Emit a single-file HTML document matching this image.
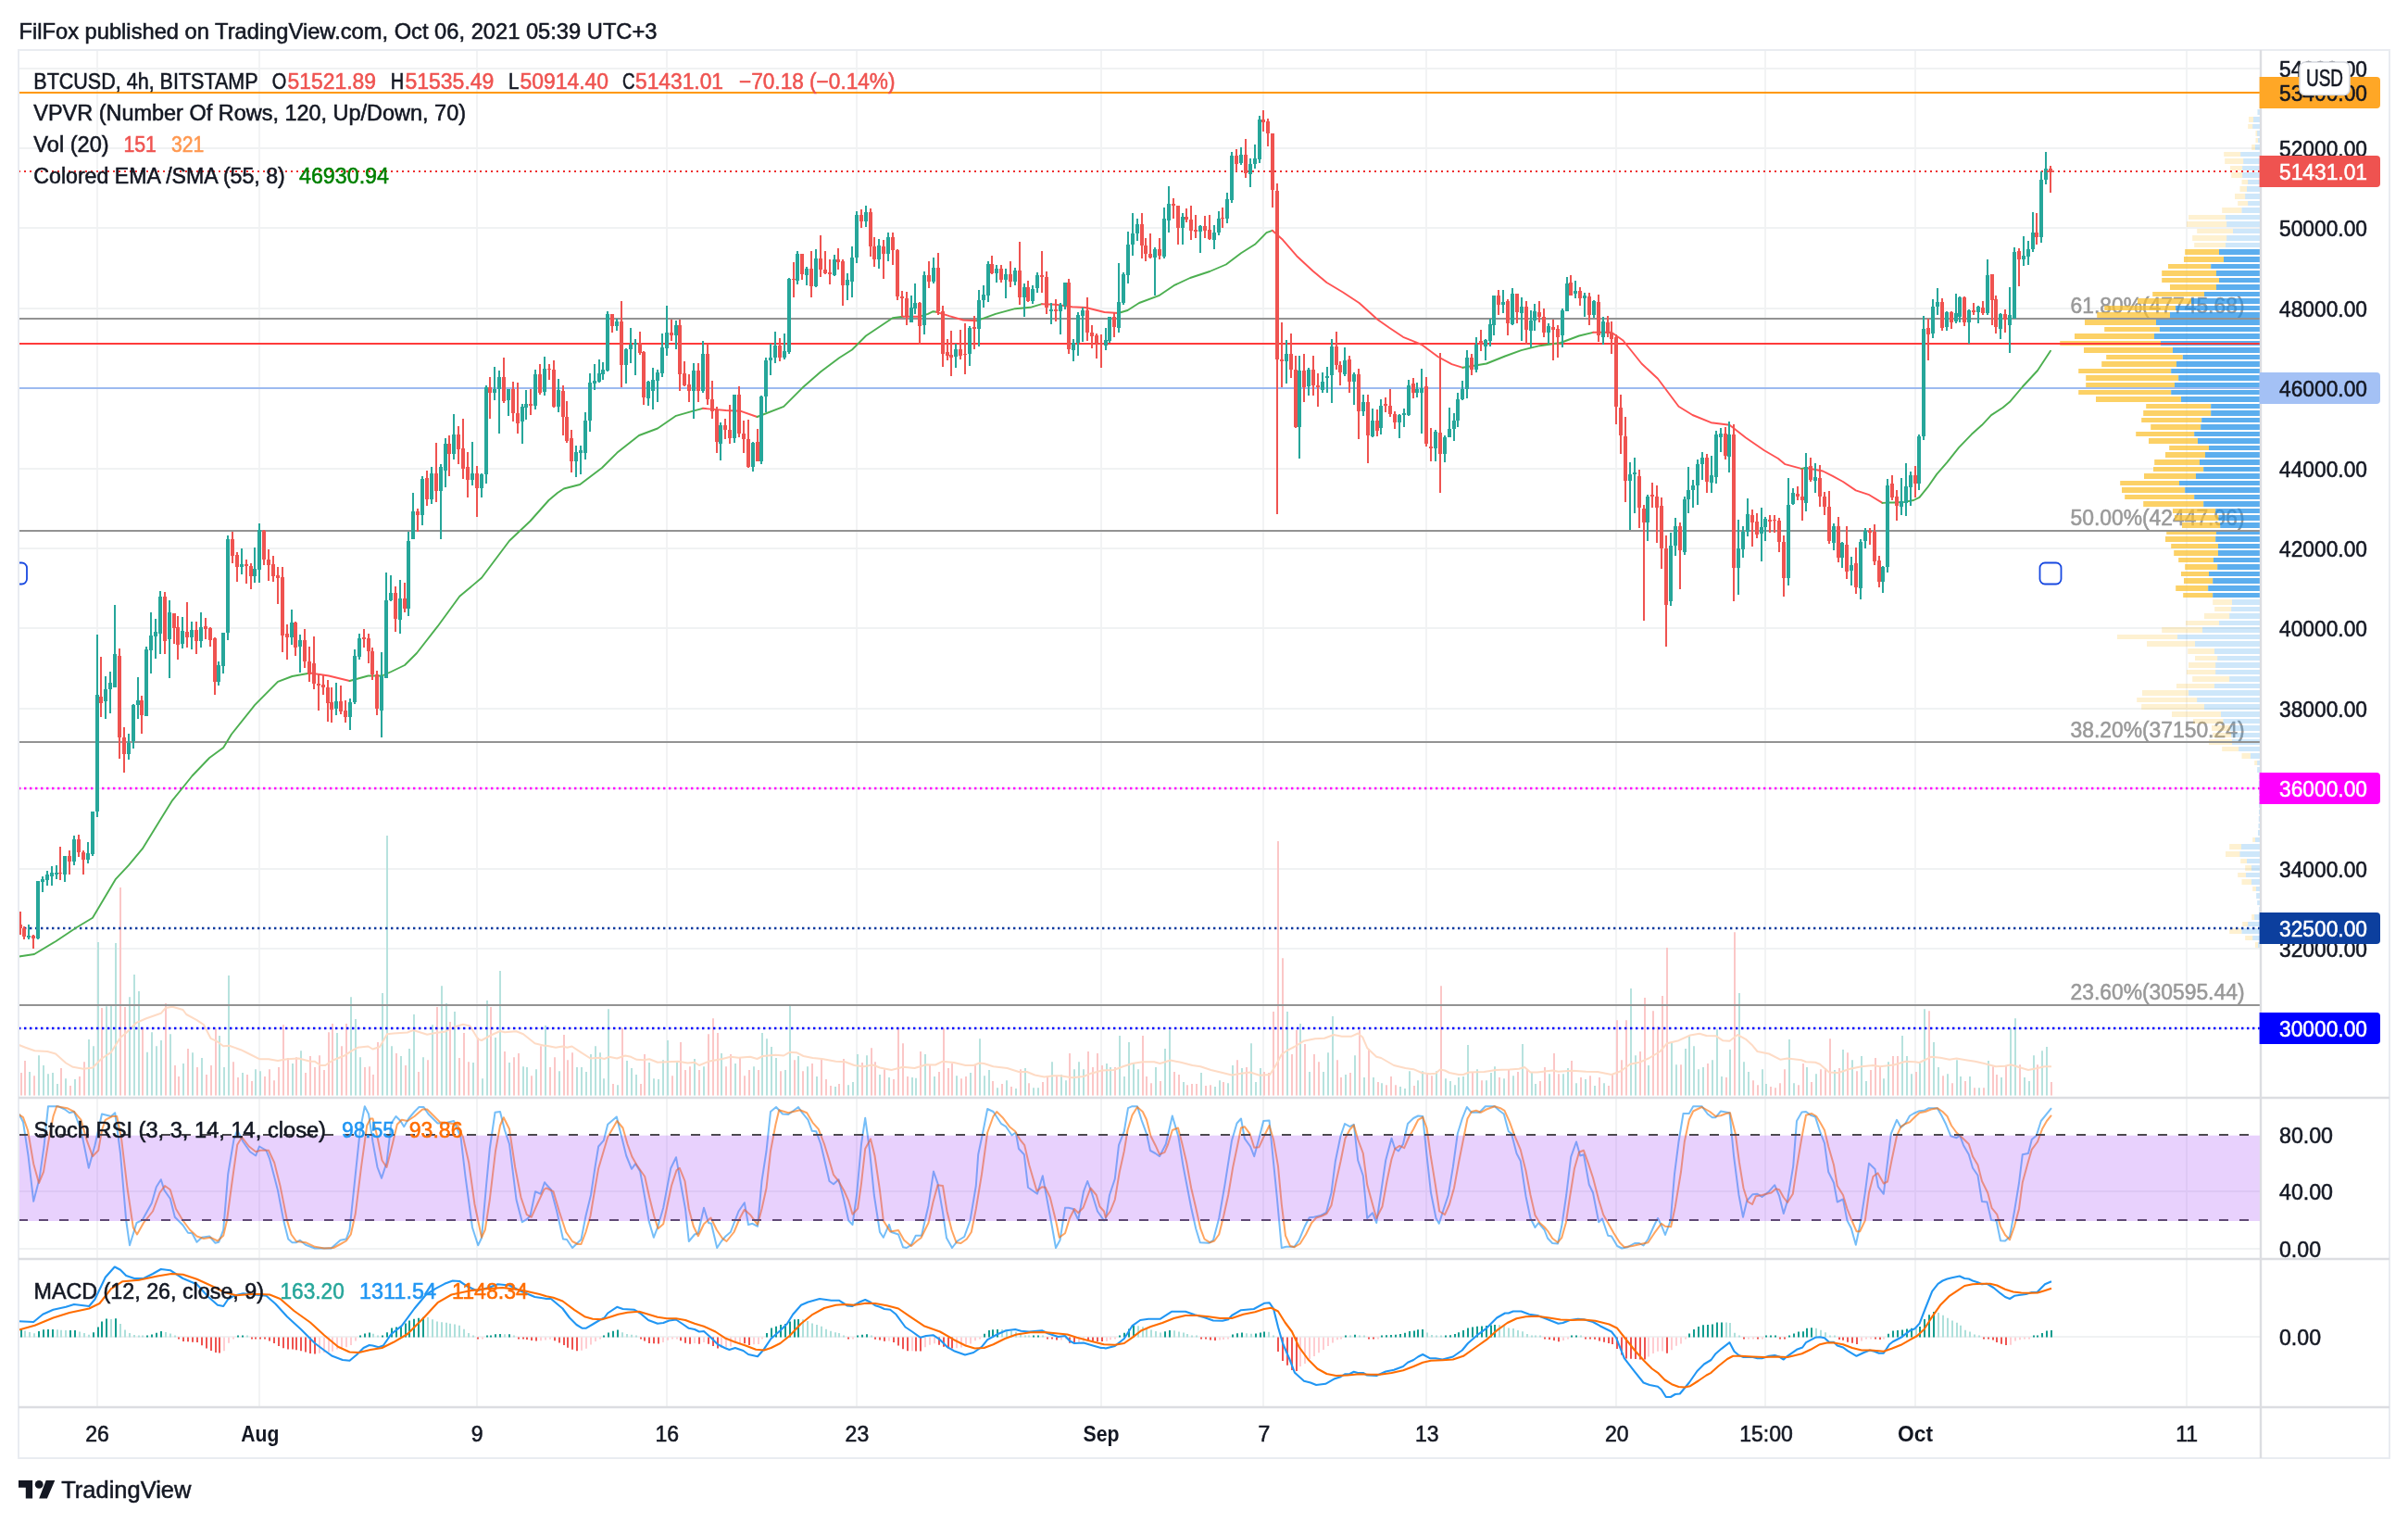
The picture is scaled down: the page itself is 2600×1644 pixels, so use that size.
<!DOCTYPE html>
<html><head><meta charset="utf-8"><title>BTCUSD chart</title>
<style>html,body{margin:0;padding:0;background:#fff}body{width:2600px;height:1644px;overflow:hidden}</style></head>
<body>
<svg width="2600" height="1644" viewBox="0 0 2600 1644" font-family='"Liberation Sans", "DejaVu Sans", sans-serif' style="display:block"><style>text{paint-order:stroke;stroke-width:.55px}</style>
<rect width="2600" height="1644" fill="#fff"/>
<defs>
<clipPath id="cm"><rect x="20" y="54" width="2421" height="1131"/></clipPath>
<clipPath id="cs"><rect x="20" y="1185" width="2421" height="174"/></clipPath>
<clipPath id="cd"><rect x="20" y="1359" width="2421" height="160"/></clipPath>
<filter id="nf" x="-5%" y="-30%" width="110%" height="160%"><feOffset dx="0" dy="0"/></filter>
</defs>
<path d="M105 54V1519 M280 54V1519 M515 54V1519 M720 54V1519 M925 54V1519 M1189 54V1519 M1364 54V1519 M1540 54V1519 M1745 54V1519 M1906 54V1519 M2068 54V1519 M2361 54V1519" stroke="#f2f3f4" stroke-width="2" fill="none"/>
<path d="M20 74H2441 M20 160H2441 M20 246H2441 M20 333H2441 M20 419H2441 M20 506H2441 M20 592H2441 M20 678H2441 M20 765H2441 M20 851H2441 M20 938H2441 M20 1024H2441 M20 1110H2441 M20 1286H2441 M20 1348H2441 M20 1443H2441" stroke="#f0f2f3" stroke-width="2" fill="none"/>
<g clip-path="url(#cm)">
<g filter="url(#nf)"><text x="2235.5" y="338.0" font-size="23" fill="#999" stroke="#999" textLength="188" lengthAdjust="spacingAndGlyphs">61.80%(47745.68)</text></g>
<g filter="url(#nf)"><text x="2235.5" y="566.8" font-size="23" fill="#999" stroke="#999" textLength="188" lengthAdjust="spacingAndGlyphs">50.00%(42447.96)</text></g>
<g filter="url(#nf)"><text x="2235.5" y="795.6" font-size="23" fill="#999" stroke="#999" textLength="188" lengthAdjust="spacingAndGlyphs">38.20%(37150.24)</text></g>
<g filter="url(#nf)"><text x="2235.5" y="1078.8" font-size="23" fill="#999" stroke="#999" textLength="188" lengthAdjust="spacingAndGlyphs">23.60%(30595.44)</text></g>
<path d="M32 1182.5V1157.0 M42 1182.5V1139.2 M47 1182.5V1150.0 M52 1182.5V1159.2 M57 1182.5V1158.0 M62 1182.5V1170.0 M71 1182.5V1164.2 M81 1182.5V1165.0 M96 1182.5V1122.0 M101 1182.5V1129.2 M106 1182.5V1017.0 M115 1182.5V1086.2 M120 1182.5V1085.8 M125 1182.5V1018.0 M140 1182.5V1076.2 M145 1182.5V1052.0 M150 1182.5V1070.0 M159 1182.5V1135.8 M164 1182.5V1114.2 M169 1182.5V1129.2 M174 1182.5V1123.0 M184 1182.5V1116.2 M198 1182.5V1148.0 M208 1182.5V1136.2 M218 1182.5V1142.0 M237 1182.5V1118.0 M242 1182.5V1152.0 M247 1182.5V1053.0 M262 1182.5V1158.0 M276 1182.5V1154.2 M281 1182.5V1156.2 M316 1182.5V1148.0 M325 1182.5V1134.2 M364 1182.5V1115.0 M379 1182.5V1076.2 M384 1182.5V1100.0 M389 1182.5V1141.2 M413 1182.5V1072.0 M418 1182.5V902.0 M423 1182.5V1129.2 M433 1182.5V1140.0 M442 1182.5V1132.0 M447 1182.5V1095.0 M457 1182.5V1141.2 M467 1182.5V1106.2 M477 1182.5V1064.2 M482 1182.5V1083.0 M491 1182.5V1092.0 M511 1182.5V1147.0 M521 1182.5V1164.2 M526 1182.5V1080.0 M535 1182.5V1120.0 M540 1182.5V1048.0 M550 1182.5V1147.0 M565 1182.5V1151.2 M569 1182.5V1152.0 M579 1182.5V1154.2 M589 1182.5V1107.0 M604 1182.5V1156.2 M623 1182.5V1152.0 M628 1182.5V1152.0 M633 1182.5V1157.0 M638 1182.5V1138.0 M643 1182.5V1129.2 M648 1182.5V1136.2 M652 1182.5V1164.2 M657 1182.5V1089.2 M667 1182.5V1171.2 M677 1182.5V1145.0 M682 1182.5V1153.0 M687 1182.5V1160.0 M701 1182.5V1147.0 M706 1182.5V1164.2 M711 1182.5V1165.0 M716 1182.5V1144.2 M721 1182.5V1123.0 M731 1182.5V1146.2 M750 1182.5V1143.0 M760 1182.5V1151.2 M779 1182.5V1137.0 M794 1182.5V1148.0 M814 1182.5V1151.2 M823 1182.5V1115.0 M828 1182.5V1121.2 M833 1182.5V1130.0 M838 1182.5V1142.0 M848 1182.5V1155.0 M853 1182.5V1085.8 M862 1182.5V1140.0 M872 1182.5V1151.2 M882 1182.5V1162.0 M902 1182.5V1173.0 M916 1182.5V1171.2 M921 1182.5V1168.0 M926 1182.5V1138.0 M936 1182.5V1139.2 M950 1182.5V1160.0 M960 1182.5V1163.0 M985 1182.5V1163.0 M989 1182.5V1163.8 M999 1182.5V1138.0 M1009 1182.5V1162.0 M1033 1182.5V1161.2 M1048 1182.5V1158.0 M1058 1182.5V1121.2 M1063 1182.5V1161.2 M1068 1182.5V1155.0 M1077 1182.5V1174.2 M1087 1182.5V1166.2 M1097 1182.5V1175.0 M1107 1182.5V1153.0 M1116 1182.5V1174.2 M1121 1182.5V1174.2 M1136 1182.5V1146.2 M1146 1182.5V1160.0 M1151 1182.5V1166.2 M1160 1182.5V1154.2 M1165 1182.5V1146.2 M1170 1182.5V1154.2 M1195 1182.5V1148.0 M1199 1182.5V1152.0 M1209 1182.5V1118.0 M1214 1182.5V1162.0 M1219 1182.5V1125.0 M1224 1182.5V1148.0 M1229 1182.5V1154.2 M1248 1182.5V1152.0 M1258 1182.5V1132.0 M1263 1182.5V1112.0 M1278 1182.5V1168.0 M1297 1182.5V1158.0 M1312 1182.5V1173.0 M1317 1182.5V1166.2 M1326 1182.5V1169.2 M1331 1182.5V1150.0 M1341 1182.5V1153.0 M1351 1182.5V1126.2 M1356 1182.5V1168.0 M1361 1182.5V1153.0 M1390 1182.5V1092.0 M1404 1182.5V1105.0 M1414 1182.5V1157.0 M1429 1182.5V1157.0 M1434 1182.5V1136.2 M1439 1182.5V1097.0 M1453 1182.5V1160.0 M1463 1182.5V1139.2 M1473 1182.5V1163.0 M1483 1182.5V1163.0 M1492 1182.5V1169.2 M1512 1182.5V1173.0 M1517 1182.5V1175.0 M1522 1182.5V1156.2 M1531 1182.5V1166.2 M1536 1182.5V1156.2 M1551 1182.5V1156.2 M1561 1182.5V1164.2 M1566 1182.5V1167.0 M1571 1182.5V1171.2 M1575 1182.5V1163.0 M1580 1182.5V1162.0 M1585 1182.5V1128.0 M1595 1182.5V1154.2 M1605 1182.5V1166.2 M1610 1182.5V1158.0 M1614 1182.5V1151.2 M1624 1182.5V1164.2 M1634 1182.5V1161.2 M1644 1182.5V1127.0 M1654 1182.5V1158.0 M1658 1182.5V1170.0 M1673 1182.5V1159.2 M1688 1182.5V1159.2 M1693 1182.5V1153.0 M1702 1182.5V1169.2 M1712 1182.5V1165.0 M1722 1182.5V1172.0 M1732 1182.5V1169.2 M1761 1182.5V1067.0 M1766 1182.5V1139.2 M1780 1182.5V1150.0 M1805 1182.5V1125.0 M1810 1182.5V1149.2 M1820 1182.5V1132.0 M1824 1182.5V1118.0 M1829 1182.5V1129.2 M1834 1182.5V1154.2 M1839 1182.5V1152.0 M1849 1182.5V1144.2 M1854 1182.5V1111.2 M1859 1182.5V1162.0 M1868 1182.5V1133.0 M1878 1182.5V1072.0 M1883 1182.5V1146.2 M1888 1182.5V1157.0 M1903 1182.5V1154.2 M1907 1182.5V1170.0 M1932 1182.5V1122.0 M1937 1182.5V1169.2 M1951 1182.5V1152.0 M1961 1182.5V1159.2 M1981 1182.5V1155.0 M1990 1182.5V1133.0 M2000 1182.5V1144.2 M2010 1182.5V1140.0 M2015 1182.5V1167.0 M2034 1182.5V1164.2 M2039 1182.5V1146.2 M2054 1182.5V1118.0 M2059 1182.5V1140.0 M2064 1182.5V1159.2 M2073 1182.5V1148.0 M2078 1182.5V1089.2 M2088 1182.5V1125.0 M2093 1182.5V1152.0 M2103 1182.5V1159.2 M2113 1182.5V1144.2 M2117 1182.5V1162.0 M2127 1182.5V1162.0 M2137 1182.5V1174.2 M2147 1182.5V1145.0 M2161 1182.5V1163.0 M2171 1182.5V1110.0 M2176 1182.5V1099.2 M2186 1182.5V1163.0 M2191 1182.5V1167.0 M2196 1182.5V1139.2 M2205 1182.5V1134.2 M2210 1182.5V1130.0" stroke="#b7e2de" stroke-width="2" fill="none"/>
<path d="M23 1182.5V1158.0 M27 1182.5V1145.0 M37 1182.5V1161.2 M66 1182.5V1153.0 M76 1182.5V1172.0 M86 1182.5V1162.0 M91 1182.5V1146.2 M110 1182.5V1088.0 M130 1182.5V958.0 M135 1182.5V1087.0 M154 1182.5V1108.8 M179 1182.5V1083.0 M189 1182.5V1150.0 M193 1182.5V1162.0 M203 1182.5V1132.0 M213 1182.5V1152.0 M223 1182.5V1160.0 M228 1182.5V1150.0 M233 1182.5V1110.8 M252 1182.5V1146.2 M257 1182.5V1163.0 M267 1182.5V1160.0 M272 1182.5V1167.0 M286 1182.5V1162.0 M291 1182.5V1154.2 M296 1182.5V1166.2 M301 1182.5V1152.0 M306 1182.5V1106.2 M311 1182.5V1142.0 M320 1182.5V1141.2 M330 1182.5V1158.0 M335 1182.5V1140.0 M340 1182.5V1152.0 M345 1182.5V1139.2 M350 1182.5V1155.0 M355 1182.5V1114.2 M359 1182.5V1105.0 M369 1182.5V1129.2 M374 1182.5V1105.0 M394 1182.5V1152.0 M399 1182.5V1151.2 M403 1182.5V1160.0 M408 1182.5V1125.0 M428 1182.5V1137.0 M438 1182.5V1150.0 M452 1182.5V1157.0 M462 1182.5V1144.2 M472 1182.5V1087.0 M486 1182.5V1103.0 M496 1182.5V1142.0 M501 1182.5V1115.0 M506 1182.5V1146.2 M516 1182.5V1120.0 M530 1182.5V1087.0 M545 1182.5V1135.0 M555 1182.5V1141.2 M560 1182.5V1137.0 M574 1182.5V1161.2 M584 1182.5V1129.2 M594 1182.5V1152.0 M599 1182.5V1141.2 M609 1182.5V1117.0 M613 1182.5V1144.2 M618 1182.5V1136.2 M662 1182.5V1170.0 M672 1182.5V1110.0 M692 1182.5V1170.0 M696 1182.5V1138.0 M726 1182.5V1161.2 M735 1182.5V1125.0 M740 1182.5V1155.0 M745 1182.5V1151.2 M755 1182.5V1155.0 M765 1182.5V1116.2 M770 1182.5V1099.2 M775 1182.5V1115.0 M784 1182.5V1151.2 M789 1182.5V1138.0 M799 1182.5V1142.0 M804 1182.5V1161.2 M809 1182.5V1155.0 M819 1182.5V1155.0 M843 1182.5V1156.2 M858 1182.5V1144.2 M867 1182.5V1156.2 M877 1182.5V1148.0 M887 1182.5V1142.0 M892 1182.5V1165.0 M897 1182.5V1172.0 M906 1182.5V1170.0 M911 1182.5V1143.0 M931 1182.5V1147.0 M941 1182.5V1131.2 M945 1182.5V1146.2 M955 1182.5V1154.2 M965 1182.5V1165.0 M970 1182.5V1110.0 M975 1182.5V1126.2 M980 1182.5V1162.0 M994 1182.5V1135.0 M1004 1182.5V1149.2 M1014 1182.5V1157.0 M1019 1182.5V1110.0 M1024 1182.5V1153.0 M1028 1182.5V1148.0 M1038 1182.5V1164.2 M1043 1182.5V1162.0 M1053 1182.5V1150.0 M1072 1182.5V1167.0 M1082 1182.5V1170.0 M1092 1182.5V1173.0 M1102 1182.5V1154.2 M1111 1182.5V1169.2 M1126 1182.5V1168.0 M1131 1182.5V1161.2 M1141 1182.5V1160.8 M1155 1182.5V1137.0 M1175 1182.5V1135.0 M1180 1182.5V1152.0 M1185 1182.5V1137.0 M1190 1182.5V1150.0 M1204 1182.5V1152.0 M1234 1182.5V1118.0 M1238 1182.5V1162.0 M1243 1182.5V1169.2 M1253 1182.5V1167.0 M1268 1182.5V1157.0 M1273 1182.5V1160.0 M1282 1182.5V1171.2 M1287 1182.5V1170.0 M1292 1182.5V1170.0 M1302 1182.5V1172.0 M1307 1182.5V1171.2 M1321 1182.5V1168.0 M1336 1182.5V1144.2 M1346 1182.5V1152.0 M1365 1182.5V1157.0 M1370 1182.5V1158.0 M1375 1182.5V1092.0 M1380 1182.5V908.0 M1385 1182.5V1034.2 M1395 1182.5V1138.0 M1400 1182.5V1112.0 M1409 1182.5V1127.0 M1419 1182.5V1138.0 M1424 1182.5V1146.2 M1444 1182.5V1144.2 M1448 1182.5V1163.0 M1458 1182.5V1158.0 M1468 1182.5V1112.0 M1478 1182.5V1132.0 M1488 1182.5V1168.0 M1497 1182.5V1171.2 M1502 1182.5V1162.0 M1507 1182.5V1171.2 M1527 1182.5V1172.0 M1541 1182.5V1158.0 M1546 1182.5V1161.2 M1556 1182.5V1064.2 M1590 1182.5V1157.0 M1600 1182.5V1166.2 M1619 1182.5V1163.0 M1629 1182.5V1155.0 M1639 1182.5V1157.0 M1649 1182.5V1154.2 M1663 1182.5V1167.0 M1668 1182.5V1152.0 M1678 1182.5V1137.0 M1683 1182.5V1159.2 M1697 1182.5V1145.0 M1707 1182.5V1163.0 M1717 1182.5V1161.2 M1727 1182.5V1163.0 M1737 1182.5V1172.0 M1741 1182.5V1160.0 M1746 1182.5V1101.2 M1751 1182.5V1144.2 M1756 1182.5V1101.2 M1771 1182.5V1135.0 M1776 1182.5V1077.0 M1785 1182.5V1091.2 M1790 1182.5V1108.0 M1795 1182.5V1075.0 M1800 1182.5V1023.0 M1815 1182.5V1149.2 M1844 1182.5V1148.0 M1864 1182.5V1163.0 M1873 1182.5V1006.2 M1893 1182.5V1166.2 M1898 1182.5V1171.2 M1912 1182.5V1173.0 M1917 1182.5V1174.2 M1922 1182.5V1169.2 M1927 1182.5V1154.2 M1942 1182.5V1171.2 M1947 1182.5V1148.0 M1956 1182.5V1168.0 M1966 1182.5V1154.2 M1971 1182.5V1153.0 M1976 1182.5V1121.2 M1986 1182.5V1153.0 M1995 1182.5V1136.2 M2005 1182.5V1156.2 M2020 1182.5V1155.0 M2025 1182.5V1142.0 M2030 1182.5V1151.2 M2044 1182.5V1140.0 M2049 1182.5V1140.0 M2069 1182.5V1157.0 M2083 1182.5V1091.2 M2098 1182.5V1161.2 M2108 1182.5V1169.2 M2122 1182.5V1167.0 M2132 1182.5V1174.2 M2142 1182.5V1174.2 M2152 1182.5V1151.2 M2156 1182.5V1160.0 M2166 1182.5V1150.0 M2181 1182.5V1149.2 M2200 1182.5V1149.2 M2215 1182.5V1168.0" stroke="#fbc7c7" stroke-width="2" fill="none"/>
<polyline points="20.5,1128.0 27.5,1130.8 37.5,1134.2 51.2,1135.0 60.0,1137.5 71.2,1147.5 78.8,1151.8 90.0,1153.8 100.0,1152.5 110.0,1142.5 120.0,1135.8 130.0,1120.0 136.2,1115.0 147.5,1103.8 157.5,1099.5 173.8,1093.8 178.8,1088.0 186.2,1086.8 197.5,1090.0 201.2,1095.0 212.5,1101.2 220.0,1106.2 227.5,1120.8 233.8,1123.8 241.2,1129.2 247.5,1128.8 260.0,1133.2 268.8,1137.5 280.0,1143.2 290.0,1143.2 300.0,1145.0 310.0,1143.2 322.5,1142.5 335.0,1145.8 340.0,1145.8 346.2,1150.0 351.2,1150.0 360.0,1144.2 372.5,1139.2 380.0,1134.2 386.2,1130.8 397.5,1129.5 402.5,1132.5 410.0,1130.0 418.0,1116.2 425.0,1115.5 440.0,1114.5 446.2,1112.0 461.2,1116.8 470.0,1115.0 480.0,1113.8 490.0,1108.8 500.0,1105.8 507.5,1107.5 516.2,1121.8 520.0,1123.0 530.0,1117.5 540.0,1113.0 545.0,1114.2 557.5,1113.2 565.0,1116.2 577.5,1126.2 587.5,1128.8 590.0,1128.8 600.0,1130.8 607.5,1129.5 612.5,1130.8 617.5,1129.5 627.5,1136.2 637.5,1142.5 647.5,1141.8 652.5,1143.0 657.5,1140.8 666.2,1142.5 675.0,1139.5 681.2,1140.8 687.5,1143.8 695.0,1144.2 701.2,1143.2 710.0,1146.8 720.0,1146.2 732.5,1145.8 742.5,1147.5 750.0,1146.8 755.0,1150.0 765.0,1145.8 780.0,1143.0 788.8,1140.8 797.5,1141.8 810.0,1140.8 817.5,1143.0 823.8,1140.0 837.5,1138.8 846.2,1139.5 852.5,1135.8 860.0,1136.2 867.5,1140.0 877.5,1142.0 887.5,1143.0 902.5,1145.8 912.5,1146.2 922.5,1150.0 932.5,1151.2 942.5,1149.5 950.0,1152.5 962.5,1155.0 975.0,1151.8 987.5,1153.0 1000.0,1149.2 1010.0,1149.5 1017.5,1145.8 1030.0,1147.0 1042.5,1150.0 1051.2,1150.0 1057.5,1147.5 1062.5,1148.0 1072.5,1151.2 1087.5,1153.0 1100.0,1157.0 1108.8,1157.0 1117.5,1160.5 1127.5,1162.5 1137.5,1161.2 1145.0,1161.2 1157.5,1163.2 1170.0,1162.0 1177.5,1158.8 1180.0,1158.2 1190.0,1155.5 1202.5,1155.0 1212.5,1151.2 1222.5,1148.0 1233.8,1146.2 1246.2,1146.2 1252.5,1148.0 1263.8,1144.5 1275.0,1146.8 1287.5,1150.0 1296.2,1151.2 1307.5,1155.0 1320.0,1158.0 1330.0,1160.5 1340.0,1158.8 1350.0,1157.5 1360.0,1160.8 1371.2,1160.0 1377.5,1150.0 1383.8,1138.2 1390.0,1133.8 1397.5,1130.0 1407.5,1123.8 1420.0,1121.2 1430.0,1120.8 1440.0,1117.0 1448.8,1118.8 1458.8,1118.8 1466.2,1115.5 1471.2,1119.5 1476.2,1131.2 1486.2,1140.8 1491.2,1142.0 1505.0,1150.0 1517.5,1153.0 1526.2,1154.2 1535.0,1158.0 1543.8,1159.2 1550.0,1158.8 1555.0,1154.5 1560.0,1155.5 1565.0,1158.0 1575.0,1160.0 1580.0,1160.0 1586.2,1157.5 1602.5,1157.0 1615.0,1155.0 1630.0,1154.5 1640.0,1153.8 1646.2,1152.0 1652.5,1157.5 1660.0,1157.5 1676.2,1155.5 1682.5,1156.8 1697.5,1155.8 1712.5,1156.8 1725.0,1157.0 1730.0,1158.0 1740.0,1160.0 1750.0,1156.2 1760.0,1148.8 1770.0,1146.8 1780.0,1142.5 1792.5,1135.0 1800.0,1126.2 1812.5,1123.2 1825.0,1117.5 1835.0,1115.8 1842.5,1118.0 1852.5,1118.2 1860.0,1123.2 1867.5,1123.8 1876.2,1117.0 1885.0,1121.8 1892.5,1128.8 1897.5,1135.0 1910.0,1137.5 1922.5,1143.8 1930.0,1142.5 1945.0,1144.2 1950.0,1146.2 1960.0,1146.8 1965.0,1148.8 1975.0,1157.5 1985.0,1158.0 1997.5,1153.8 2010.0,1151.2 2022.5,1150.0 2030.0,1151.2 2045.0,1149.5 2057.5,1145.8 2067.5,1146.2 2072.5,1147.0 2085.0,1140.8 2095.0,1141.8 2105.0,1143.8 2112.5,1142.5 2122.5,1144.2 2132.5,1145.8 2142.5,1148.0 2155.0,1151.2 2165.0,1150.8 2171.2,1149.2 2180.0,1152.0 2190.0,1155.0 2200.0,1153.0 2207.5,1151.2 2215.0,1151.2" fill="none" stroke="#fedbc5" stroke-width="2" stroke-linejoin="round"/>
<rect x="2437.5" y="118" width="2.5" height="6" fill="#2090e8" fill-opacity="0.22"/>
<rect x="2428.0" y="126" width="5.0" height="6" fill="#fbc02d" fill-opacity="0.22"/>
<rect x="2433.0" y="126" width="7.0" height="6" fill="#2090e8" fill-opacity="0.22"/>
<rect x="2427.2" y="134" width="5.0" height="5" fill="#fbc02d" fill-opacity="0.22"/>
<rect x="2432.2" y="134" width="7.8" height="5" fill="#2090e8" fill-opacity="0.22"/>
<rect x="2435.5" y="141" width="1.8" height="6" fill="#fbc02d" fill-opacity="0.22"/>
<rect x="2437.2" y="141" width="2.8" height="6" fill="#2090e8" fill-opacity="0.22"/>
<rect x="2435.5" y="149" width="2.5" height="5" fill="#fbc02d" fill-opacity="0.22"/>
<rect x="2438.0" y="149" width="2.0" height="5" fill="#2090e8" fill-opacity="0.22"/>
<rect x="2431.2" y="156" width="3.8" height="6" fill="#fbc02d" fill-opacity="0.22"/>
<rect x="2435.0" y="156" width="5.0" height="6" fill="#2090e8" fill-opacity="0.22"/>
<rect x="2401.2" y="164" width="18.0" height="5" fill="#fbc02d" fill-opacity="0.22"/>
<rect x="2419.2" y="164" width="20.8" height="5" fill="#2090e8" fill-opacity="0.22"/>
<rect x="2402.2" y="171" width="20.0" height="6" fill="#fbc02d" fill-opacity="0.22"/>
<rect x="2422.2" y="171" width="17.8" height="6" fill="#2090e8" fill-opacity="0.22"/>
<rect x="2408.0" y="179" width="13.2" height="5" fill="#fbc02d" fill-opacity="0.22"/>
<rect x="2421.2" y="179" width="18.8" height="5" fill="#2090e8" fill-opacity="0.22"/>
<rect x="2409.2" y="186" width="12.0" height="6" fill="#fbc02d" fill-opacity="0.22"/>
<rect x="2421.2" y="186" width="18.8" height="6" fill="#2090e8" fill-opacity="0.22"/>
<rect x="2420.5" y="194" width="6.8" height="5" fill="#fbc02d" fill-opacity="0.22"/>
<rect x="2427.2" y="194" width="12.8" height="5" fill="#2090e8" fill-opacity="0.22"/>
<rect x="2418.5" y="201" width="7.5" height="6" fill="#fbc02d" fill-opacity="0.22"/>
<rect x="2426.0" y="201" width="14.0" height="6" fill="#2090e8" fill-opacity="0.22"/>
<rect x="2413.0" y="209" width="11.2" height="6" fill="#fbc02d" fill-opacity="0.22"/>
<rect x="2424.2" y="209" width="15.8" height="6" fill="#2090e8" fill-opacity="0.22"/>
<rect x="2416.2" y="217" width="11.0" height="5" fill="#fbc02d" fill-opacity="0.22"/>
<rect x="2427.2" y="217" width="12.8" height="5" fill="#2090e8" fill-opacity="0.22"/>
<rect x="2399.2" y="224" width="21.2" height="6" fill="#fbc02d" fill-opacity="0.22"/>
<rect x="2420.5" y="224" width="19.5" height="6" fill="#2090e8" fill-opacity="0.22"/>
<rect x="2363.0" y="232" width="40.0" height="5" fill="#fbc02d" fill-opacity="0.22"/>
<rect x="2403.0" y="232" width="37.0" height="5" fill="#2090e8" fill-opacity="0.22"/>
<rect x="2361.0" y="239" width="43.2" height="6" fill="#fbc02d" fill-opacity="0.22"/>
<rect x="2404.2" y="239" width="35.8" height="6" fill="#2090e8" fill-opacity="0.22"/>
<rect x="2372.2" y="247" width="38.8" height="5" fill="#fbc02d" fill-opacity="0.22"/>
<rect x="2411.0" y="247" width="29.0" height="5" fill="#2090e8" fill-opacity="0.22"/>
<rect x="2367.2" y="254" width="37.0" height="6" fill="#fbc02d" fill-opacity="0.22"/>
<rect x="2404.2" y="254" width="35.8" height="6" fill="#2090e8" fill-opacity="0.22"/>
<rect x="2369.2" y="262" width="33.8" height="5" fill="#fbc02d" fill-opacity="0.22"/>
<rect x="2403.0" y="262" width="37.0" height="5" fill="#2090e8" fill-opacity="0.22"/>
<rect x="2359.2" y="269" width="36.8" height="6" fill="#fbc02d" fill-opacity="0.73"/>
<rect x="2396.0" y="269" width="44.0" height="6" fill="#2090e8" fill-opacity="0.73"/>
<rect x="2358.0" y="277" width="43.0" height="6" fill="#fbc02d" fill-opacity="0.73"/>
<rect x="2401.0" y="277" width="39.0" height="6" fill="#2090e8" fill-opacity="0.73"/>
<rect x="2341.0" y="285" width="46.2" height="5" fill="#fbc02d" fill-opacity="0.73"/>
<rect x="2387.2" y="285" width="52.8" height="5" fill="#2090e8" fill-opacity="0.73"/>
<rect x="2334.2" y="292" width="58.8" height="6" fill="#fbc02d" fill-opacity="0.73"/>
<rect x="2393.0" y="292" width="47.0" height="6" fill="#2090e8" fill-opacity="0.73"/>
<rect x="2334.2" y="300" width="61.8" height="5" fill="#fbc02d" fill-opacity="0.73"/>
<rect x="2396.0" y="300" width="44.0" height="5" fill="#2090e8" fill-opacity="0.73"/>
<rect x="2343.0" y="307" width="50.0" height="6" fill="#fbc02d" fill-opacity="0.73"/>
<rect x="2393.0" y="307" width="47.0" height="6" fill="#2090e8" fill-opacity="0.73"/>
<rect x="2324.2" y="315" width="55.8" height="5" fill="#fbc02d" fill-opacity="0.73"/>
<rect x="2380.0" y="315" width="60.0" height="5" fill="#2090e8" fill-opacity="0.73"/>
<rect x="2308.0" y="322" width="58.0" height="6" fill="#fbc02d" fill-opacity="0.73"/>
<rect x="2366.0" y="322" width="74.0" height="6" fill="#2090e8" fill-opacity="0.73"/>
<rect x="2272.2" y="330" width="76.8" height="5" fill="#fbc02d" fill-opacity="0.73"/>
<rect x="2349.0" y="330" width="91.0" height="5" fill="#2090e8" fill-opacity="0.73"/>
<rect x="2264.2" y="337" width="78.8" height="6" fill="#fbc02d" fill-opacity="0.73"/>
<rect x="2343.0" y="337" width="97.0" height="6" fill="#2090e8" fill-opacity="0.73"/>
<rect x="2251.0" y="345" width="77.0" height="6" fill="#fbc02d" fill-opacity="0.73"/>
<rect x="2328.0" y="345" width="112.0" height="6" fill="#2090e8" fill-opacity="0.73"/>
<rect x="2272.2" y="353" width="59.5" height="5" fill="#fbc02d" fill-opacity="0.73"/>
<rect x="2331.8" y="353" width="108.2" height="5" fill="#2090e8" fill-opacity="0.73"/>
<rect x="2240.0" y="360" width="86.0" height="6" fill="#fbc02d" fill-opacity="0.73"/>
<rect x="2326.0" y="360" width="114.0" height="6" fill="#2090e8" fill-opacity="0.73"/>
<rect x="2224.2" y="368" width="108.8" height="5" fill="#fbc02d" fill-opacity="0.73"/>
<rect x="2333.0" y="368" width="107.0" height="5" fill="#2090e8" fill-opacity="0.73"/>
<rect x="2250.0" y="375" width="96.0" height="6" fill="#fbc02d" fill-opacity="0.73"/>
<rect x="2346.0" y="375" width="94.0" height="6" fill="#2090e8" fill-opacity="0.73"/>
<rect x="2274.2" y="383" width="82.5" height="5" fill="#fbc02d" fill-opacity="0.73"/>
<rect x="2356.8" y="383" width="83.2" height="5" fill="#2090e8" fill-opacity="0.73"/>
<rect x="2269.2" y="390" width="80.8" height="6" fill="#fbc02d" fill-opacity="0.73"/>
<rect x="2350.0" y="390" width="90.0" height="6" fill="#2090e8" fill-opacity="0.73"/>
<rect x="2244.2" y="398" width="100.0" height="5" fill="#fbc02d" fill-opacity="0.73"/>
<rect x="2344.2" y="398" width="95.8" height="5" fill="#2090e8" fill-opacity="0.73"/>
<rect x="2252.2" y="405" width="100.0" height="6" fill="#fbc02d" fill-opacity="0.73"/>
<rect x="2352.2" y="405" width="87.8" height="6" fill="#2090e8" fill-opacity="0.73"/>
<rect x="2252.2" y="413" width="95.8" height="6" fill="#fbc02d" fill-opacity="0.73"/>
<rect x="2348.0" y="413" width="92.0" height="6" fill="#2090e8" fill-opacity="0.73"/>
<rect x="2244.2" y="421" width="100.0" height="5" fill="#fbc02d" fill-opacity="0.73"/>
<rect x="2344.2" y="421" width="95.8" height="5" fill="#2090e8" fill-opacity="0.73"/>
<rect x="2263.0" y="428" width="92.0" height="6" fill="#fbc02d" fill-opacity="0.73"/>
<rect x="2355.0" y="428" width="85.0" height="6" fill="#2090e8" fill-opacity="0.73"/>
<rect x="2317.2" y="436" width="70.0" height="5" fill="#fbc02d" fill-opacity="0.73"/>
<rect x="2387.2" y="436" width="52.8" height="5" fill="#2090e8" fill-opacity="0.73"/>
<rect x="2314.2" y="443" width="73.0" height="6" fill="#fbc02d" fill-opacity="0.73"/>
<rect x="2387.2" y="443" width="52.8" height="6" fill="#2090e8" fill-opacity="0.73"/>
<rect x="2312.2" y="451" width="65.0" height="5" fill="#fbc02d" fill-opacity="0.73"/>
<rect x="2377.2" y="451" width="62.8" height="5" fill="#2090e8" fill-opacity="0.73"/>
<rect x="2322.2" y="458" width="54.0" height="6" fill="#fbc02d" fill-opacity="0.73"/>
<rect x="2376.2" y="458" width="63.8" height="6" fill="#2090e8" fill-opacity="0.73"/>
<rect x="2306.2" y="466" width="63.0" height="5" fill="#fbc02d" fill-opacity="0.73"/>
<rect x="2369.2" y="466" width="70.8" height="5" fill="#2090e8" fill-opacity="0.73"/>
<rect x="2320.0" y="473" width="53.0" height="6" fill="#fbc02d" fill-opacity="0.73"/>
<rect x="2373.0" y="473" width="67.0" height="6" fill="#2090e8" fill-opacity="0.73"/>
<rect x="2342.2" y="481" width="42.8" height="5" fill="#fbc02d" fill-opacity="0.73"/>
<rect x="2385.0" y="481" width="55.0" height="5" fill="#2090e8" fill-opacity="0.73"/>
<rect x="2338.0" y="488" width="43.0" height="6" fill="#fbc02d" fill-opacity="0.73"/>
<rect x="2381.0" y="488" width="59.0" height="6" fill="#2090e8" fill-opacity="0.73"/>
<rect x="2326.2" y="496" width="48.8" height="6" fill="#fbc02d" fill-opacity="0.73"/>
<rect x="2375.0" y="496" width="65.0" height="6" fill="#2090e8" fill-opacity="0.73"/>
<rect x="2325.0" y="504" width="54.2" height="5" fill="#fbc02d" fill-opacity="0.73"/>
<rect x="2379.2" y="504" width="60.8" height="5" fill="#2090e8" fill-opacity="0.73"/>
<rect x="2315.0" y="511" width="56.0" height="6" fill="#fbc02d" fill-opacity="0.73"/>
<rect x="2371.0" y="511" width="69.0" height="6" fill="#2090e8" fill-opacity="0.73"/>
<rect x="2289.2" y="519" width="63.8" height="5" fill="#fbc02d" fill-opacity="0.73"/>
<rect x="2353.0" y="519" width="87.0" height="5" fill="#2090e8" fill-opacity="0.73"/>
<rect x="2291.0" y="526" width="68.2" height="6" fill="#fbc02d" fill-opacity="0.73"/>
<rect x="2359.2" y="526" width="80.8" height="6" fill="#2090e8" fill-opacity="0.73"/>
<rect x="2294.2" y="534" width="75.0" height="5" fill="#fbc02d" fill-opacity="0.73"/>
<rect x="2369.2" y="534" width="70.8" height="5" fill="#2090e8" fill-opacity="0.73"/>
<rect x="2314.2" y="541" width="65.0" height="6" fill="#fbc02d" fill-opacity="0.73"/>
<rect x="2379.2" y="541" width="60.8" height="6" fill="#2090e8" fill-opacity="0.73"/>
<rect x="2346.0" y="549" width="46.2" height="5" fill="#fbc02d" fill-opacity="0.73"/>
<rect x="2392.2" y="549" width="47.8" height="5" fill="#2090e8" fill-opacity="0.73"/>
<rect x="2348.0" y="556" width="47.5" height="6" fill="#fbc02d" fill-opacity="0.73"/>
<rect x="2395.5" y="556" width="44.5" height="6" fill="#2090e8" fill-opacity="0.73"/>
<rect x="2356.0" y="564" width="41.2" height="6" fill="#fbc02d" fill-opacity="0.73"/>
<rect x="2397.2" y="564" width="42.8" height="6" fill="#2090e8" fill-opacity="0.73"/>
<rect x="2339.2" y="572" width="53.8" height="5" fill="#fbc02d" fill-opacity="0.73"/>
<rect x="2393.0" y="572" width="47.0" height="5" fill="#2090e8" fill-opacity="0.73"/>
<rect x="2338.0" y="579" width="54.2" height="6" fill="#fbc02d" fill-opacity="0.73"/>
<rect x="2392.2" y="579" width="47.8" height="6" fill="#2090e8" fill-opacity="0.73"/>
<rect x="2344.2" y="587" width="50.8" height="5" fill="#fbc02d" fill-opacity="0.73"/>
<rect x="2395.0" y="587" width="45.0" height="5" fill="#2090e8" fill-opacity="0.73"/>
<rect x="2347.2" y="594" width="47.8" height="6" fill="#fbc02d" fill-opacity="0.73"/>
<rect x="2395.0" y="594" width="45.0" height="6" fill="#2090e8" fill-opacity="0.73"/>
<rect x="2352.2" y="602" width="37.8" height="5" fill="#fbc02d" fill-opacity="0.73"/>
<rect x="2390.0" y="602" width="50.0" height="5" fill="#2090e8" fill-opacity="0.73"/>
<rect x="2359.2" y="609" width="35.0" height="6" fill="#fbc02d" fill-opacity="0.73"/>
<rect x="2394.2" y="609" width="45.8" height="6" fill="#2090e8" fill-opacity="0.73"/>
<rect x="2355.0" y="617" width="30.0" height="5" fill="#fbc02d" fill-opacity="0.73"/>
<rect x="2385.0" y="617" width="55.0" height="5" fill="#2090e8" fill-opacity="0.73"/>
<rect x="2358.0" y="624" width="31.2" height="6" fill="#fbc02d" fill-opacity="0.73"/>
<rect x="2389.2" y="624" width="50.8" height="6" fill="#2090e8" fill-opacity="0.73"/>
<rect x="2349.2" y="632" width="35.0" height="6" fill="#fbc02d" fill-opacity="0.73"/>
<rect x="2384.2" y="632" width="55.8" height="6" fill="#2090e8" fill-opacity="0.73"/>
<rect x="2357.2" y="640" width="32.0" height="5" fill="#fbc02d" fill-opacity="0.73"/>
<rect x="2389.2" y="640" width="50.8" height="5" fill="#2090e8" fill-opacity="0.73"/>
<rect x="2389.2" y="647" width="20.8" height="6" fill="#fbc02d" fill-opacity="0.22"/>
<rect x="2410.0" y="647" width="30.0" height="6" fill="#2090e8" fill-opacity="0.22"/>
<rect x="2391.2" y="655" width="18.0" height="5" fill="#fbc02d" fill-opacity="0.22"/>
<rect x="2409.2" y="655" width="30.8" height="5" fill="#2090e8" fill-opacity="0.22"/>
<rect x="2380.0" y="662" width="27.2" height="6" fill="#fbc02d" fill-opacity="0.22"/>
<rect x="2407.2" y="662" width="32.8" height="6" fill="#2090e8" fill-opacity="0.22"/>
<rect x="2360.0" y="670" width="36.0" height="5" fill="#fbc02d" fill-opacity="0.22"/>
<rect x="2396.0" y="670" width="44.0" height="5" fill="#2090e8" fill-opacity="0.22"/>
<rect x="2334.2" y="677" width="43.8" height="6" fill="#fbc02d" fill-opacity="0.22"/>
<rect x="2378.0" y="677" width="62.0" height="6" fill="#2090e8" fill-opacity="0.22"/>
<rect x="2286.0" y="685" width="65.0" height="5" fill="#fbc02d" fill-opacity="0.22"/>
<rect x="2351.0" y="685" width="89.0" height="5" fill="#2090e8" fill-opacity="0.22"/>
<rect x="2318.0" y="692" width="52.0" height="6" fill="#fbc02d" fill-opacity="0.22"/>
<rect x="2370.0" y="692" width="70.0" height="6" fill="#2090e8" fill-opacity="0.22"/>
<rect x="2362.2" y="700" width="28.8" height="6" fill="#fbc02d" fill-opacity="0.22"/>
<rect x="2391.0" y="700" width="49.0" height="6" fill="#2090e8" fill-opacity="0.22"/>
<rect x="2370.0" y="708" width="24.2" height="5" fill="#fbc02d" fill-opacity="0.22"/>
<rect x="2394.2" y="708" width="45.8" height="5" fill="#2090e8" fill-opacity="0.22"/>
<rect x="2363.0" y="715" width="29.2" height="6" fill="#fbc02d" fill-opacity="0.22"/>
<rect x="2392.2" y="715" width="47.8" height="6" fill="#2090e8" fill-opacity="0.22"/>
<rect x="2361.0" y="723" width="31.2" height="5" fill="#fbc02d" fill-opacity="0.22"/>
<rect x="2392.2" y="723" width="47.8" height="5" fill="#2090e8" fill-opacity="0.22"/>
<rect x="2367.2" y="730" width="40.0" height="6" fill="#fbc02d" fill-opacity="0.22"/>
<rect x="2407.2" y="730" width="32.8" height="6" fill="#2090e8" fill-opacity="0.22"/>
<rect x="2350.0" y="738" width="41.0" height="5" fill="#fbc02d" fill-opacity="0.22"/>
<rect x="2391.0" y="738" width="49.0" height="5" fill="#2090e8" fill-opacity="0.22"/>
<rect x="2313.0" y="745" width="50.0" height="6" fill="#fbc02d" fill-opacity="0.22"/>
<rect x="2363.0" y="745" width="77.0" height="6" fill="#2090e8" fill-opacity="0.22"/>
<rect x="2307.2" y="753" width="65.0" height="5" fill="#fbc02d" fill-opacity="0.22"/>
<rect x="2372.2" y="753" width="67.8" height="5" fill="#2090e8" fill-opacity="0.22"/>
<rect x="2312.2" y="760" width="67.8" height="6" fill="#fbc02d" fill-opacity="0.22"/>
<rect x="2380.0" y="760" width="60.0" height="6" fill="#2090e8" fill-opacity="0.22"/>
<rect x="2345.0" y="768" width="53.0" height="6" fill="#fbc02d" fill-opacity="0.22"/>
<rect x="2398.0" y="768" width="42.0" height="6" fill="#2090e8" fill-opacity="0.22"/>
<rect x="2368.0" y="776" width="32.5" height="5" fill="#fbc02d" fill-opacity="0.22"/>
<rect x="2400.5" y="776" width="39.5" height="5" fill="#2090e8" fill-opacity="0.22"/>
<rect x="2388.0" y="783" width="20.0" height="6" fill="#fbc02d" fill-opacity="0.22"/>
<rect x="2408.0" y="783" width="32.0" height="6" fill="#2090e8" fill-opacity="0.22"/>
<rect x="2389.2" y="791" width="20.0" height="5" fill="#fbc02d" fill-opacity="0.22"/>
<rect x="2409.2" y="791" width="30.8" height="5" fill="#2090e8" fill-opacity="0.22"/>
<rect x="2385.0" y="798" width="25.0" height="6" fill="#fbc02d" fill-opacity="0.22"/>
<rect x="2410.0" y="798" width="30.0" height="6" fill="#2090e8" fill-opacity="0.22"/>
<rect x="2399.2" y="806" width="18.0" height="5" fill="#fbc02d" fill-opacity="0.22"/>
<rect x="2417.2" y="806" width="22.8" height="5" fill="#2090e8" fill-opacity="0.22"/>
<rect x="2420.5" y="813" width="9.5" height="6" fill="#fbc02d" fill-opacity="0.22"/>
<rect x="2430.0" y="813" width="10.0" height="6" fill="#2090e8" fill-opacity="0.22"/>
<rect x="2434.2" y="821" width="3.0" height="5" fill="#fbc02d" fill-opacity="0.22"/>
<rect x="2437.2" y="821" width="2.8" height="5" fill="#2090e8" fill-opacity="0.22"/>
<rect x="2437.2" y="828" width="2.8" height="6" fill="#2090e8" fill-opacity="0.22"/>
<rect x="2438.8" y="836" width="1.2" height="5" fill="#2090e8" fill-opacity="0.22"/>
<rect x="2438.8" y="843" width="1.2" height="6" fill="#2090e8" fill-opacity="0.22"/>
<rect x="2439.0" y="851" width="1.0" height="6" fill="#2090e8" fill-opacity="0.22"/>
<rect x="2439.0" y="859" width="1.0" height="5" fill="#2090e8" fill-opacity="0.22"/>
<rect x="2439.0" y="866" width="1.0" height="6" fill="#2090e8" fill-opacity="0.22"/>
<rect x="2439.0" y="874" width="1.0" height="5" fill="#2090e8" fill-opacity="0.22"/>
<rect x="2438.8" y="881" width="1.2" height="6" fill="#2090e8" fill-opacity="0.22"/>
<rect x="2438.5" y="889" width="1.5" height="5" fill="#2090e8" fill-opacity="0.22"/>
<rect x="2438.0" y="896" width="2.0" height="6" fill="#2090e8" fill-opacity="0.22"/>
<rect x="2432.2" y="904" width="2.8" height="5" fill="#fbc02d" fill-opacity="0.22"/>
<rect x="2435.0" y="904" width="5.0" height="5" fill="#2090e8" fill-opacity="0.22"/>
<rect x="2407.2" y="911" width="12.8" height="6" fill="#fbc02d" fill-opacity="0.22"/>
<rect x="2420.0" y="911" width="20.0" height="6" fill="#2090e8" fill-opacity="0.22"/>
<rect x="2403.0" y="919" width="15.5" height="6" fill="#fbc02d" fill-opacity="0.22"/>
<rect x="2418.5" y="919" width="21.5" height="6" fill="#2090e8" fill-opacity="0.22"/>
<rect x="2419.2" y="927" width="6.8" height="5" fill="#fbc02d" fill-opacity="0.22"/>
<rect x="2426.0" y="927" width="14.0" height="5" fill="#2090e8" fill-opacity="0.22"/>
<rect x="2424.2" y="934" width="6.8" height="6" fill="#fbc02d" fill-opacity="0.22"/>
<rect x="2431.0" y="934" width="9.0" height="6" fill="#2090e8" fill-opacity="0.22"/>
<rect x="2416.2" y="942" width="8.8" height="5" fill="#fbc02d" fill-opacity="0.22"/>
<rect x="2425.0" y="942" width="15.0" height="5" fill="#2090e8" fill-opacity="0.22"/>
<rect x="2420.5" y="949" width="10.5" height="6" fill="#fbc02d" fill-opacity="0.22"/>
<rect x="2431.0" y="949" width="9.0" height="6" fill="#2090e8" fill-opacity="0.22"/>
<rect x="2432.2" y="957" width="3.8" height="5" fill="#fbc02d" fill-opacity="0.22"/>
<rect x="2436.0" y="957" width="4.0" height="5" fill="#2090e8" fill-opacity="0.22"/>
<rect x="2436.2" y="964" width="3.8" height="6" fill="#2090e8" fill-opacity="0.22"/>
<rect x="2437.2" y="972" width="2.8" height="5" fill="#2090e8" fill-opacity="0.22"/>
<rect x="2439.2" y="979" width="0.8" height="6" fill="#2090e8" fill-opacity="0.22"/>
<rect x="2431.2" y="987" width="3.0" height="6" fill="#fbc02d" fill-opacity="0.22"/>
<rect x="2434.2" y="987" width="5.8" height="6" fill="#2090e8" fill-opacity="0.22"/>
<rect x="2421.2" y="995" width="6.0" height="5" fill="#fbc02d" fill-opacity="0.22"/>
<rect x="2427.2" y="995" width="12.8" height="5" fill="#2090e8" fill-opacity="0.22"/>
<rect x="2407.2" y="1002" width="13.2" height="6" fill="#fbc02d" fill-opacity="0.22"/>
<rect x="2420.5" y="1002" width="19.5" height="6" fill="#2090e8" fill-opacity="0.22"/>
<rect x="2424.2" y="1010" width="8.0" height="5" fill="#fbc02d" fill-opacity="0.22"/>
<rect x="2432.2" y="1010" width="7.8" height="5" fill="#2090e8" fill-opacity="0.22"/>
<rect x="2435.0" y="1017" width="3.0" height="6" fill="#fbc02d" fill-opacity="0.22"/>
<rect x="2438.0" y="1017" width="2.0" height="6" fill="#2090e8" fill-opacity="0.22"/>
<path d="M20 100H2441" stroke="#ff9800" stroke-width="2" fill="none"/>
<path d="M20 344H2441" stroke="#939393" stroke-width="2" fill="none"/>
<path d="M20 573H2441" stroke="#939393" stroke-width="2" fill="none"/>
<path d="M20 801H2441" stroke="#939393" stroke-width="2" fill="none"/>
<path d="M20 1085H2441" stroke="#939393" stroke-width="2" fill="none"/>
<path d="M20 371H2441" stroke="#ff3b3b" stroke-width="2" fill="none"/>
<path d="M20 419H2441" stroke="#9dbaf0" stroke-width="2" fill="none"/>
<path d="M20 185H2441" stroke="#ee2d2d" stroke-width="2" stroke-dasharray="2 4" fill="none"/>
<path d="M20 851H2441" stroke="#ff00ff" stroke-width="2.4" stroke-dasharray="2.4 3.6" fill="none"/>
<path d="M20 1002H2441" stroke="#0d3a9e" stroke-width="2.4" stroke-dasharray="2.4 3.6" fill="none"/>
<path d="M20 1110H2441" stroke="#0000ff" stroke-width="2.4" stroke-dasharray="2.4 3.6" fill="none"/>
<polyline points="20.5,1032.5 37.0,1030.0 60.0,1016.2 82.5,1001.2 100.0,990.8 125.0,948.8 138.8,934.2 153.8,916.2 173.8,883.8 186.2,863.8 197.5,850.0 207.5,837.5 226.2,818.0 241.2,807.0 250.0,792.5 275.0,761.2 300.0,735.8 315.5,730.0 335.0,726.5" fill="none" stroke="#4caf50" stroke-width="1.9" stroke-linejoin="round" stroke-linecap="round"/>
<polyline points="335.0,726.5 355.0,729.5 377.5,735.0" fill="none" stroke="#ff5252" stroke-width="1.9" stroke-linejoin="round" stroke-linecap="round"/>
<polyline points="377.5,735.0 397.5,729.5 412.5,729.5 422.5,725.0 437.0,718.0 450.0,705.0 472.5,676.2 496.2,643.8 520.0,623.8 550.0,583.8 572.5,562.5 592.5,540.0 602.0,532.0 608.8,527.5 626.2,523.0 650.0,505.0 666.2,488.8 690.0,470.0 710.0,462.5 730.0,448.8 747.5,443.8 758.8,440.8" fill="none" stroke="#4caf50" stroke-width="1.9" stroke-linejoin="round" stroke-linecap="round"/>
<polyline points="758.8,440.8 783.8,443.0 800.0,443.8 817.5,450.0" fill="none" stroke="#ff5252" stroke-width="1.9" stroke-linejoin="round" stroke-linecap="round"/>
<polyline points="817.5,450.0 846.2,438.8 866.2,418.8 886.2,401.2 906.2,386.2 920.0,377.5 935.0,362.5 963.8,343.2 975.0,341.8" fill="none" stroke="#4caf50" stroke-width="1.9" stroke-linejoin="round" stroke-linecap="round"/>
<polyline points="975.0,341.8 992.5,341.8" fill="none" stroke="#ff5252" stroke-width="1.9" stroke-linejoin="round" stroke-linecap="round"/>
<polyline points="992.5,341.8 1002.0,338.8 1007.5,336.2 1011.2,336.8" fill="none" stroke="#4caf50" stroke-width="1.9" stroke-linejoin="round" stroke-linecap="round"/>
<polyline points="1011.2,336.8 1025.0,341.2 1040.0,345.5 1055.0,346.2" fill="none" stroke="#ff5252" stroke-width="1.9" stroke-linejoin="round" stroke-linecap="round"/>
<polyline points="1055.0,346.2 1075.0,338.8 1096.2,333.2 1112.5,331.8 1125.0,328.2" fill="none" stroke="#4caf50" stroke-width="1.9" stroke-linejoin="round" stroke-linecap="round"/>
<polyline points="1125.0,328.2 1140.0,328.8 1157.5,331.2 1172.5,332.0 1192.5,337.0 1207.5,338.0" fill="none" stroke="#ff5252" stroke-width="1.9" stroke-linejoin="round" stroke-linecap="round"/>
<polyline points="1207.5,338.0 1217.5,335.0 1230.0,327.0 1251.2,319.2 1267.5,308.2 1285.0,300.0 1306.2,293.0 1323.8,285.5 1340.0,273.2 1355.0,263.8 1367.5,251.2 1373.8,248.8" fill="none" stroke="#4caf50" stroke-width="1.9" stroke-linejoin="round" stroke-linecap="round"/>
<polyline points="1373.8,248.8 1385.0,258.8 1400.0,276.2 1417.5,292.5 1432.5,305.0 1450.0,315.5 1467.5,327.0 1487.5,345.0 1500.0,353.8 1515.0,363.8 1535.0,372.0 1552.5,385.0 1567.5,393.2 1579.5,396.8" fill="none" stroke="#ff5252" stroke-width="1.9" stroke-linejoin="round" stroke-linecap="round"/>
<polyline points="1579.5,396.8 1605.0,392.5 1625.0,384.5 1642.5,378.2 1662.5,373.2 1685.0,370.0 1705.0,362.5 1720.0,358.8" fill="none" stroke="#4caf50" stroke-width="1.9" stroke-linejoin="round" stroke-linecap="round"/>
<polyline points="1720.0,358.8 1740.0,358.8 1752.5,367.5 1772.5,392.5 1790.0,408.8 1812.5,438.8 1827.5,448.0 1847.5,456.2 1867.5,458.8 1885.0,472.5 1905.0,486.2 1920.0,495.0 1927.5,501.2 1945.0,505.8" fill="none" stroke="#ff5252" stroke-width="1.9" stroke-linejoin="round" stroke-linecap="round"/>
<polyline points="1945.0,506.0 1950.0,505.0" fill="none" stroke="#4caf50" stroke-width="1.9" stroke-linejoin="round" stroke-linecap="round"/>
<polyline points="1950.0,505.0 1968.1,508.5 1978.8,513.8 1990.0,520.0 2003.8,529.4 2017.5,533.8 2032.5,542.9" fill="none" stroke="#ff5252" stroke-width="1.9" stroke-linejoin="round" stroke-linecap="round"/>
<polyline points="2032.5,542.9 2041.2,542.5 2045.0,542.5 2056.2,541.9 2066.2,540.0 2072.5,536.9 2081.2,526.2 2091.2,511.9 2102.5,498.8 2115.0,483.1 2128.8,468.8 2140.0,458.8 2150.0,448.1 2162.5,440.0 2170.0,433.8 2183.8,417.5 2200.0,400.0 2214.0,378.8" fill="none" stroke="#4caf50" stroke-width="1.9" stroke-linejoin="round" stroke-linecap="round"/>
<path d="M31 998V1014 M41 951V1014 M46 946V963 M51 940V956 M56 935V956 M61 934V949 M70 924V952 M80 902V934 M95 909V932 M100 876V924 M105 685V882 M114 730V776 M119 725V770 M124 653V742 M139 792V820 M144 760V808 M149 731V776 M158 698V773 M163 661V727 M168 668V711 M173 638V706 M183 648V732 M197 666V700 M207 671V701 M217 661V699 M236 714V740 M241 683V727 M246 578V691 M261 592V620 M275 591V629 M280 565V629 M315 658V696 M324 685V726 M363 737V772 M378 754V788 M383 701V760 M388 684V712 M412 704V796 M417 618V732 M422 621V649 M432 626V684 M441 574V665 M446 532V582 M456 514V567 M466 504V544 M476 501V582 M481 473V526 M490 447V496 M510 477V524 M520 511V537 M525 416V522 M534 396V432 M539 400V468 M549 420V449 M564 436V479 M568 421V453 M578 399V442 M588 385V427 M603 409V445 M622 481V515 M627 481V512 M632 445V496 M637 403V466 M642 393V421 M647 388V413 M651 391V410 M656 336V401 M666 344V357 M676 376V414 M681 354V392 M686 366V405 M700 411V438 M705 397V442 M710 399V434 M715 360V407 M720 330V384 M730 346V377 M749 392V452 M759 368V424 M778 456V497 M793 426V478 M813 477V509 M822 427V501 M827 386V445 M832 371V405 M837 358V392 M847 360V388 M852 300V382 M861 271V307 M871 288V308 M881 269V310 M901 275V298 M915 295V324 M920 266V321 M925 228V284 M935 222V245 M949 258V290 M959 251V282 M984 319V348 M988 306V339 M998 293V361 M1008 278V306 M1032 371V397 M1047 352V395 M1057 313V374 M1062 308V332 M1067 282V326 M1076 286V305 M1086 290V322 M1096 289V308 M1106 306V342 M1115 308V328 M1120 294V316 M1135 327V350 M1145 327V361 M1150 305V334 M1159 366V390 M1164 337V384 M1169 332V369 M1194 354V378 M1198 342V370 M1208 284V359 M1213 294V329 M1218 250V306 M1223 230V276 M1228 236V260 M1247 267V319 M1257 224V279 M1262 201V251 M1277 230V264 M1296 243V273 M1311 243V269 M1316 228V254 M1325 208V241 M1330 164V219 M1340 159V178 M1350 171V202 M1355 156V182 M1360 125V176 M1389 367V414 M1403 384V495 M1413 397V427 M1428 402V424 M1433 396V424 M1438 366V435 M1452 375V406 M1462 402V437 M1472 426V449 M1482 441V472 M1491 431V469 M1511 447V473 M1516 441V461 M1521 410V449 M1530 413V429 M1535 398V468 M1550 464V498 M1560 470V499 M1565 440V472 M1570 446V476 M1574 424V461 M1579 411V432 M1584 378V430 M1594 364V402 M1604 366V389 M1609 344V374 M1613 319V362 M1623 313V338 M1633 311V351 M1643 321V368 M1653 335V375 M1657 328V357 M1672 349V371 M1687 333V375 M1692 299V336 M1701 303V322 M1711 316V342 M1721 324V343 M1731 342V372 M1760 499V572 M1765 494V554 M1779 534V584 M1804 575V654 M1809 559V600 M1819 536V599 M1823 504V554 M1828 518V548 M1833 496V545 M1838 488V518 M1848 492V532 M1853 465V522 M1858 462V488 M1867 455V510 M1877 561V642 M1882 568V602 M1887 538V579 M1902 548V606 M1906 558V584 M1931 516V632 M1936 527V545 M1950 489V552 M1960 500V532 M1980 565V594 M1989 585V613 M1999 601V632 M2009 582V647 M2014 570V592 M2033 611V640 M2038 517V618 M2053 516V556 M2058 500V557 M2063 509V546 M2072 469V529 M2077 341V475 M2087 323V365 M2092 311V340 M2102 336V357 M2112 317V349 M2116 320V348 M2126 334V371 M2136 330V349 M2146 280V340 M2160 338V366 M2170 310V381 M2175 267V344 M2185 255V287 M2190 260V286 M2195 229V272 M2204 185V262 M2209 164V199" stroke="#26a69a" stroke-width="2" fill="none"/>
<path d="M22 984V1009 M26 1000V1014 M36 1009V1024 M65 914V950 M75 918V944 M85 901V925 M90 918V944 M109 709V774 M129 700V819 M134 785V834 M153 751V792 M178 639V706 M188 662V695 M192 665V712 M202 650V699 M212 671V706 M222 667V690 M227 677V698 M232 688V750 M251 574V608 M256 596V628 M266 604V630 M271 608V636 M285 572V610 M290 593V627 M295 600V628 M300 612V652 M305 612V704 M310 674V712 M319 671V708 M329 679V721 M334 698V736 M339 687V744 M344 728V767 M349 729V750 M354 734V779 M358 742V780 M368 740V771 M373 756V780 M393 679V699 M398 684V716 M402 699V734 M407 724V772 M427 633V682 M437 629V661 M451 549V574 M461 508V546 M471 478V542 M485 470V514 M495 460V501 M500 452V517 M505 488V537 M515 503V558 M529 407V452 M544 386V435 M554 412V455 M559 413V468 M573 420V448 M583 393V426 M593 393V410 M598 389V440 M608 416V470 M612 433V478 M617 464V510 M661 339V359 M671 325V418 M691 358V383 M695 379V437 M725 345V368 M734 345V422 M739 390V417 M744 404V434 M754 392V434 M764 371V437 M769 411V452 M774 439V489 M783 452V474 M788 437V479 M798 417V472 M803 454V489 M808 453V505 M818 463V498 M842 365V390 M857 283V321 M866 274V302 M876 271V321 M886 254V299 M891 271V296 M896 280V307 M905 268V291 M910 280V330 M930 226V246 M940 225V277 M944 256V288 M954 259V301 M964 251V286 M969 269V324 M974 314V342 M979 315V351 M993 326V372 M1003 282V311 M1013 273V340 M1018 330V396 M1023 366V389 M1027 357V406 M1037 356V388 M1042 349V404 M1052 341V377 M1071 276V296 M1081 286V305 M1091 282V310 M1101 261V329 M1110 303V326 M1125 271V316 M1130 293V339 M1140 323V347 M1154 301V382 M1174 321V368 M1179 351V376 M1184 360V387 M1189 361V397 M1203 338V364 M1233 230V279 M1237 257V282 M1242 252V279 M1252 257V280 M1267 214V236 M1272 222V264 M1281 225V240 M1286 222V259 M1291 232V257 M1301 233V257 M1306 232V259 M1320 224V246 M1335 161V185 M1345 150V192 M1364 119V142 M1369 128V158 M1374 144V224 M1379 198V555 M1384 348V418 M1394 360V408 M1399 384V462 M1408 382V434 M1418 384V427 M1423 403V439 M1443 358V399 M1447 390V416 M1457 384V424 M1467 398V474 M1477 426V500 M1487 442V471 M1496 429V445 M1501 420V450 M1506 444V463 M1526 408V430 M1540 407V482 M1545 462V498 M1555 381V532 M1589 382V405 M1599 356V379 M1618 313V340 M1628 323V362 M1638 317V349 M1648 325V372 M1662 325V348 M1667 333V364 M1677 345V389 M1682 351V386 M1696 297V319 M1706 310V330 M1716 316V351 M1726 318V369 M1736 341V364 M1740 347V382 M1745 361V458 M1750 426V490 M1755 450V542 M1770 507V570 M1775 545V670 M1784 521V548 M1789 524V586 M1794 537V614 M1799 578V698 M1814 564V636 M1843 490V532 M1863 461V496 M1872 458V649 M1892 550V590 M1897 554V581 M1911 556V575 M1916 556V575 M1921 559V596 M1926 578V644 M1941 525V540 M1946 506V562 M1955 494V520 M1965 502V547 M1970 531V556 M1975 530V587 M1985 558V607 M1994 568V625 M2004 591V641 M2019 570V588 M2024 566V610 M2029 600V634 M2043 513V540 M2048 529V562 M2068 503V537 M2082 344V389 M2097 322V357 M2107 336V355 M2121 320V352 M2131 327V340 M2141 325V340 M2151 296V351 M2155 319V360 M2165 334V359 M2180 268V309 M2199 230V264 M2214 179V208" stroke="#ef5350" stroke-width="2" fill="none"/>
<path d="M31 1010V1012 M41 951V1013 M46 949V952 M51 944V950 M56 942V946 M61 942V944 M70 924V944 M80 906V930 M95 921V928 M100 876V922 M105 750V876 M114 744V757 M119 737V744 M124 706V742 M139 802V814 M144 761V800 M149 756V761 M158 701V773 M163 686V702 M168 682V687 M173 644V684 M183 661V690 M197 681V695 M207 680V688 M217 677V692 M236 718V736 M241 683V719 M246 582V683 M261 609V612 M275 614V622 M280 572V615 M315 672V688 M324 691V698 M363 757V765 M378 758V774 M383 708V758 M388 689V709 M412 730V767 M417 648V732 M422 640V648 M432 646V669 M441 584V657 M446 552V582 M456 517V556 M466 511V539 M476 504V530 M481 479V508 M490 469V490 M510 511V518 M520 512V527 M525 418V512 M534 420V424 M539 407V420 M549 420V432 M564 439V455 M568 436V440 M578 404V438 M588 398V423 M603 421V439 M622 488V498 M627 486V489 M632 454V489 M637 413V454 M642 411V414 M647 403V412 M651 399V404 M656 339V400 M666 347V352 M676 377V394 M681 372V377 M686 370V372 M700 412V430 M705 410V422 M710 402V411 M715 375V403 M720 359V376 M730 351V362 M749 400V422 M759 382V422 M778 459V479 M793 426V473 M813 478V504 M822 428V498 M827 389V428 M832 386V389 M837 373V386 M847 379V386 M852 301V380 M861 274V303 M871 290V297 M881 279V309 M901 280V297 M915 302V308 M920 278V304 M925 232V278 M935 229V239 M949 265V280 M959 256V274 M984 332V348 M988 327V333 M998 297V351 M1008 289V304 M1032 377V385 M1047 354V382 M1057 324V355 M1062 318V324 M1067 285V319 M1076 290V295 M1086 296V302 M1096 292V304 M1106 310V321 M1115 312V325 M1120 297V311 M1135 334V336 M1145 329V336 M1150 305V330 M1159 370V378 M1164 340V370 M1169 335V341 M1194 367V373 M1198 342V368 M1208 326V354 M1213 296V327 M1218 264V297 M1223 252V264 M1228 242V252 M1247 269V278 M1257 236V277 M1262 220V238 M1277 234V246 M1296 244V250 M1311 251V259 M1316 236V251 M1325 215V236 M1330 168V216 M1340 167V176 M1350 177V188 M1355 171V177 M1360 129V172 M1389 382V390 M1403 400V461 M1413 399V417 M1428 412V421 M1433 406V408 M1438 374V405 M1452 389V404 M1462 404V412 M1472 434V444 M1482 454V471 M1491 438V462 M1511 448V456 M1516 446V448 M1521 416V448 M1530 420V424 M1535 419V424 M1550 466V484 M1560 472V490 M1565 463V472 M1570 454V463 M1574 431V454 M1579 420V431 M1584 386V420 M1594 372V399 M1604 367V374 M1609 350V368 M1613 319V351 M1623 326V329 M1633 317V350 M1643 331V338 M1653 346V357 M1657 336V346 M1672 352V359 M1687 335V362 M1692 306V336 M1701 314V317 M1711 319V322 M1721 325V340 M1731 347V364 M1760 512V519 M1765 510V512 M1779 536V564 M1804 589V649 M1809 568V589 M1819 539V596 M1823 529V539 M1828 524V529 M1833 501V524 M1838 494V501 M1848 513V521 M1853 469V515 M1858 468V472 M1867 469V493 M1877 592V613 M1882 574V593 M1887 555V574 M1902 569V576 M1906 560V569 M1931 545V624 M1936 532V544 M1950 504V543 M1960 515V519 M1980 568V586 M1989 586V602 M1999 610V616 M2009 585V635 M2014 573V584 M2033 612V628 M2038 524V612 M2053 541V547 M2058 525V543 M2063 513V526 M2072 471V522 M2077 355V471 M2087 331V360 M2092 326V331 M2102 337V353 M2112 338V347 M2116 321V342 M2126 335V348 M2136 331V337 M2146 297V338 M2160 339V355 M2170 340V351 M2175 272V344 M2185 276V280 M2190 269V277 M2195 251V269 M2204 194V256 M2209 182V194" stroke="#26a69a" stroke-width="4" fill="none"/>
<path d="M22 998V1002 M26 1002V1011 M36 1010V1013 M65 942V943 M75 924V930 M85 906V920 M90 920V928 M109 752V759 M129 708V796 M134 796V814 M153 756V772 M178 644V692 M188 662V678 M192 677V696 M202 682V688 M212 680V692 M222 676V679 M227 678V691 M232 689V736 M251 582V600 M256 599V612 M266 609V611 M271 611V622 M285 573V604 M290 604V610 M295 609V622 M300 621V624 M305 623V686 M310 684V688 M319 672V699 M329 691V714 M334 714V728 M339 716V738 M344 738V740 M349 739V742 M354 742V759 M358 758V766 M368 757V768 M373 767V774 M393 688V690 M398 689V703 M402 703V728 M407 728V765 M427 640V668 M437 646V657 M451 552V556 M461 516V539 M471 511V530 M485 479V490 M495 469V485 M500 484V506 M505 504V518 M515 511V527 M529 418V424 M544 407V433 M554 420V446 M559 446V457 M573 436V438 M583 404V424 M593 398V399 M598 399V439 M608 422V450 M612 450V476 M617 473V498 M661 339V352 M671 347V394 M691 370V381 M695 380V429 M725 359V362 M734 351V404 M739 403V416 M744 415V422 M754 400V422 M764 382V431 M769 431V444 M774 442V477 M783 459V464 M788 464V473 M798 426V468 M803 468V474 M808 474V504 M818 477V498 M842 373V386 M857 301V302 M866 274V296 M876 290V309 M886 279V291 M891 291V295 M896 294V296 M905 280V283 M910 282V308 M930 232V239 M940 229V266 M944 266V280 M954 266V274 M964 256V270 M969 270V320 M974 320V322 M979 322V342 M993 327V352 M1003 297V304 M1013 289V336 M1018 336V382 M1023 380V384 M1027 383V386 M1037 377V384 M1042 382V383 M1052 353V355 M1071 285V295 M1081 290V302 M1091 296V304 M1101 292V321 M1110 310V325 M1125 297V299 M1130 299V332 M1140 334V336 M1154 305V377 M1174 335V359 M1179 359V363 M1184 362V370 M1189 370V372 M1203 342V353 M1233 242V265 M1237 265V274 M1242 274V278 M1252 269V276 M1267 220V222 M1272 222V246 M1281 234V237 M1286 237V249 M1291 248V250 M1301 244V249 M1306 248V258 M1320 235V236 M1335 168V177 M1345 167V187 M1364 129V132 M1369 131V144 M1374 144V205 M1379 206V388 M1384 388V390 M1394 382V399 M1399 399V461 M1408 400V418 M1418 399V416 M1423 416V418 M1443 374V394 M1447 394V402 M1457 388V412 M1467 404V444 M1477 434V470 M1487 454V465 M1496 436V438 M1501 438V447 M1506 447V456 M1526 414V424 M1540 417V479 M1545 482V484 M1555 467V490 M1589 386V399 M1599 368V372 M1618 319V329 M1628 325V349 M1638 317V337 M1648 331V356 M1662 337V342 M1667 342V359 M1677 353V356 M1682 355V364 M1696 305V319 M1706 314V322 M1716 320V340 M1726 326V362 M1736 348V360 M1740 359V366 M1745 364V439 M1750 440V470 M1755 471V519 M1770 514V548 M1775 549V564 M1784 534V536 M1789 536V548 M1794 546V592 M1799 592V653 M1814 568V594 M1843 494V520 M1863 468V492 M1872 469V613 M1892 556V564 M1897 563V577 M1911 561V563 M1916 561V562 M1921 562V585 M1926 585V624 M1941 533V536 M1946 536V540 M1955 503V518 M1965 516V536 M1970 536V547 M1975 547V584 M1985 568V602 M1994 588V617 M2004 608V634 M2019 573V575 M2024 574V606 M2029 605V628 M2043 522V537 M2048 536V546 M2068 513V522 M2082 354V361 M2097 326V354 M2107 337V348 M2121 321V348 M2131 335V337 M2141 332V338 M2151 296V324 M2155 323V353 M2165 339V345 M2180 271V280 M2199 251V256 M2214 182V185" stroke="#ef5350" stroke-width="4" fill="none"/>
<rect x="2210" y="184" width="8" height="2" fill="#ef5350"/>
<rect x="6.0" y="607.5" width="23" height="23" rx="5.5" fill="#fff" stroke="#1848e0" stroke-width="1.8"/>
<rect x="2202.5" y="607.5" width="23" height="23" rx="5.5" fill="#fff" stroke="#1848e0" stroke-width="1.8"/>
</g>
<g clip-path="url(#cs)">
<polyline points="20.5,1202.5 25.0,1211.2 30.5,1247.5 36.2,1296.8 42.5,1272.5 47.5,1237.5 52.0,1194.2 62.5,1194.2 70.0,1197.5 75.0,1201.2 80.0,1200.0 87.5,1220.0 95.8,1260.8 102.5,1236.2 110.0,1202.5 120.0,1205.0 124.2,1201.2 130.0,1245.0 136.2,1317.5 140.0,1344.2 147.5,1320.0 153.8,1316.8 163.8,1298.8 168.8,1281.2 173.8,1273.2 177.5,1285.0 183.8,1293.8 188.8,1313.8 197.5,1322.5 203.0,1330.8 207.5,1331.2 212.5,1340.8 218.0,1335.8 226.2,1334.5 232.5,1341.8 236.2,1340.8 241.2,1327.5 246.2,1267.5 252.5,1230.0 256.2,1220.0 262.5,1232.5 270.0,1243.2 276.2,1247.5 280.0,1237.5 287.5,1241.8 291.2,1251.2 300.0,1285.0 306.2,1317.5 311.2,1337.5 315.5,1341.2 320.0,1341.2 323.8,1338.8 330.0,1343.8 340.0,1347.5 350.0,1347.5 357.5,1347.5 367.5,1338.8 373.8,1337.5 377.5,1327.5 382.5,1280.0 388.8,1220.0 393.8,1194.2 398.0,1202.5 402.5,1232.5 407.5,1260.0 412.0,1271.8 417.5,1255.0 422.5,1212.5 427.5,1205.0 432.5,1210.0 436.2,1216.2 441.2,1207.5 447.5,1200.0 452.5,1195.0 457.5,1195.0 462.5,1202.5 472.5,1212.5 480.0,1212.5 490.0,1210.0 497.5,1227.5 502.5,1270.0 510.0,1325.0 516.2,1344.2 520.0,1336.2 525.0,1280.0 528.8,1240.0 534.5,1200.8 540.0,1200.0 545.0,1220.0 550.0,1235.0 557.5,1295.0 563.8,1319.2 568.8,1316.2 572.5,1312.5 578.0,1286.2 583.8,1288.8 588.0,1276.2 590.0,1278.8 595.0,1284.2 601.2,1307.5 608.0,1337.5 612.0,1338.0 618.0,1347.0 627.5,1338.0 632.5,1312.5 638.0,1290.0 642.5,1260.0 646.2,1237.5 651.8,1231.2 656.2,1213.8 665.8,1205.5 670.0,1222.5 676.2,1247.5 682.0,1261.8 686.2,1256.2 691.2,1264.5 696.2,1292.5 700.8,1318.8 705.8,1335.8 710.0,1325.0 716.2,1303.8 724.2,1261.2 730.0,1249.2 735.0,1277.5 740.0,1305.0 743.8,1340.0 750.0,1332.5 753.8,1331.2 760.0,1303.8 765.0,1320.0 768.0,1320.8 774.2,1347.0 778.8,1340.0 783.8,1334.2 788.8,1330.0 797.5,1307.5 803.8,1298.2 808.0,1322.0 812.5,1320.8 818.0,1323.8 822.5,1275.0 827.5,1242.5 832.0,1200.0 838.0,1195.0 845.0,1202.5 851.2,1203.0 862.0,1195.0 866.2,1201.2 872.5,1208.8 876.8,1220.8 881.2,1221.2 886.2,1235.0 891.2,1256.2 895.5,1275.0 900.0,1278.2 905.5,1273.2 911.2,1295.0 916.2,1317.5 920.5,1322.0 925.0,1290.0 930.0,1235.0 934.2,1206.8 938.8,1240.0 943.8,1290.0 950.0,1330.0 953.8,1335.8 960.0,1321.8 962.5,1330.0 970.0,1332.5 975.0,1346.2 978.8,1347.0 983.8,1343.8 988.8,1333.8 995.0,1333.8 1002.5,1301.2 1008.0,1264.5 1012.5,1277.5 1018.0,1308.8 1022.0,1336.2 1028.0,1347.0 1033.8,1339.5 1041.2,1335.0 1047.5,1317.5 1053.8,1280.0 1056.2,1246.2 1061.2,1222.5 1066.2,1197.0 1072.5,1200.0 1081.2,1213.2 1086.2,1216.2 1092.5,1225.5 1096.8,1222.5 1100.0,1240.0 1105.8,1246.2 1110.0,1281.8 1120.0,1288.8 1125.8,1269.2 1130.8,1296.2 1135.0,1318.8 1140.0,1347.0 1144.5,1338.8 1150.0,1303.8 1153.8,1303.8 1158.8,1305.0 1164.2,1316.8 1170.0,1286.2 1174.2,1275.0 1178.8,1287.5 1185.0,1307.5 1192.0,1317.5 1193.8,1316.2 1198.0,1290.0 1203.8,1272.5 1208.0,1236.2 1213.8,1221.2 1218.0,1196.2 1222.5,1194.2 1228.0,1194.2 1232.5,1208.8 1238.0,1223.8 1242.0,1242.0 1247.5,1245.0 1252.0,1248.2 1258.8,1235.0 1265.8,1204.5 1272.5,1227.5 1277.5,1258.8 1286.2,1303.8 1291.2,1326.2 1295.8,1341.2 1305.0,1341.8 1310.0,1338.8 1316.2,1315.0 1322.5,1278.8 1330.0,1231.2 1335.5,1212.5 1340.0,1207.5 1343.8,1228.8 1350.0,1237.5 1354.2,1248.2 1358.8,1231.2 1364.2,1210.0 1370.5,1209.5 1373.8,1242.5 1378.8,1292.5 1383.8,1347.0 1388.8,1345.8 1397.5,1345.8 1402.5,1338.8 1408.8,1323.8 1413.8,1314.2 1418.8,1313.8 1426.2,1312.0 1432.0,1308.8 1437.5,1287.5 1441.8,1253.8 1447.5,1226.2 1452.0,1213.0 1457.5,1216.2 1461.8,1213.8 1466.2,1252.5 1471.8,1269.2 1476.2,1315.0 1482.0,1309.2 1486.2,1320.0 1491.8,1282.5 1496.2,1252.5 1502.5,1228.8 1506.2,1240.0 1510.0,1242.5 1515.0,1235.0 1520.0,1213.0 1526.2,1207.0 1531.2,1204.5 1536.2,1205.0 1540.0,1242.5 1545.0,1287.5 1550.5,1315.0 1553.8,1320.8 1558.8,1305.0 1563.8,1290.0 1568.8,1260.0 1573.8,1223.8 1578.8,1207.5 1583.8,1195.0 1588.8,1200.8 1597.5,1200.8 1603.8,1194.2 1613.8,1194.2 1618.8,1198.8 1623.8,1202.5 1628.8,1221.2 1632.0,1223.8 1637.5,1245.0 1641.8,1253.2 1647.5,1291.2 1652.5,1315.0 1657.5,1325.0 1661.2,1320.0 1667.5,1327.5 1671.2,1336.8 1676.2,1342.0 1682.0,1342.5 1686.2,1323.8 1691.2,1290.0 1696.2,1248.8 1702.0,1232.5 1706.2,1247.5 1710.0,1246.2 1715.8,1278.8 1720.0,1287.5 1726.2,1319.2 1730.0,1315.5 1736.2,1333.8 1740.0,1334.5 1746.2,1345.0 1751.2,1347.5 1757.5,1346.2 1765.0,1342.0 1770.0,1342.0 1774.5,1344.5 1779.5,1337.5 1786.2,1322.5 1790.0,1315.0 1793.8,1322.5 1798.0,1333.0 1803.8,1317.5 1808.0,1267.5 1812.5,1232.5 1817.5,1202.0 1823.8,1202.0 1828.2,1194.2 1837.5,1194.2 1843.8,1202.5 1848.8,1206.2 1852.5,1206.2 1858.0,1199.5 1867.5,1201.2 1872.0,1247.5 1877.5,1290.0 1882.0,1313.8 1886.2,1296.2 1892.5,1289.2 1897.5,1288.8 1902.5,1292.0 1910.0,1286.2 1916.2,1279.2 1921.2,1291.2 1925.8,1310.0 1930.0,1296.2 1936.2,1258.8 1940.0,1210.0 1945.5,1200.5 1950.0,1200.0 1955.0,1203.8 1960.0,1205.5 1965.0,1221.2 1970.0,1234.2 1974.2,1265.0 1980.0,1276.8 1983.8,1297.5 1990.0,1294.5 1994.5,1317.5 1998.8,1325.8 2003.8,1343.8 2008.8,1320.0 2013.8,1287.5 2018.0,1255.8 2024.5,1262.0 2028.0,1281.2 2033.8,1288.8 2037.5,1258.8 2041.8,1223.8 2048.0,1208.8 2052.5,1217.0 2057.5,1212.5 2062.0,1204.5 2066.2,1202.0 2072.5,1199.2 2077.5,1198.8 2082.5,1196.2 2091.8,1196.2 2096.2,1203.8 2101.2,1213.8 2106.2,1226.2 2112.5,1228.2 2116.2,1225.8 2120.0,1236.2 2125.8,1246.2 2130.0,1260.8 2135.5,1268.8 2140.0,1297.0 2145.5,1297.5 2150.0,1317.0 2155.5,1317.5 2160.0,1339.2 2165.0,1339.5 2170.0,1335.0 2175.0,1307.5 2180.0,1277.0 2183.8,1246.2 2190.0,1245.0 2193.8,1230.0 2198.8,1225.8 2203.8,1210.0 2215.0,1196.2" fill="none" stroke="#2196f3" stroke-opacity="0.62" stroke-width="2" stroke-linejoin="round"/>
<polyline points="20.5,1203.2 25.0,1206.2 30.0,1220.0 36.2,1256.2 42.0,1277.0 47.0,1265.0 52.5,1231.2 57.5,1205.0 61.2,1194.2 72.5,1196.2 80.0,1200.0 87.5,1208.8 93.8,1231.2 100.0,1248.2 106.2,1241.8 110.0,1220.0 113.8,1208.8 121.2,1205.0 126.2,1205.0 131.2,1230.0 137.5,1282.5 143.8,1325.0 148.0,1332.5 155.0,1320.0 165.0,1307.5 172.5,1287.5 178.0,1280.0 183.8,1284.2 190.0,1305.0 197.5,1317.5 205.0,1327.5 212.5,1334.5 220.0,1337.0 227.5,1335.8 235.0,1339.5 241.2,1333.8 245.0,1317.5 250.0,1280.0 256.2,1235.8 261.2,1227.5 268.8,1237.5 276.2,1243.2 281.2,1241.8 290.0,1241.8 296.2,1255.0 302.5,1280.0 310.0,1317.5 314.5,1332.5 320.0,1340.0 330.0,1341.2 340.0,1345.8 350.0,1347.5 360.0,1347.0 367.5,1343.0 373.8,1339.5 378.8,1332.5 383.8,1310.0 390.0,1260.0 396.2,1215.0 400.0,1207.5 402.5,1207.5 407.5,1227.5 412.5,1252.5 417.5,1260.0 423.8,1235.0 428.8,1213.8 433.8,1208.8 440.0,1210.0 447.5,1205.0 456.2,1197.5 461.2,1197.5 467.5,1203.8 475.0,1211.2 485.0,1212.5 493.8,1213.8 500.0,1227.5 506.2,1255.0 512.5,1300.0 520.0,1335.8 523.8,1327.5 528.8,1295.0 535.0,1242.5 540.0,1215.0 543.8,1206.2 550.0,1218.8 556.2,1260.0 562.5,1292.5 568.8,1311.2 573.8,1313.8 580.0,1300.0 587.5,1283.8 590.0,1282.5 597.5,1286.2 603.8,1307.5 611.2,1330.0 618.0,1340.0 623.8,1343.0 627.5,1343.0 632.5,1330.0 637.5,1312.5 642.5,1282.5 646.2,1261.2 656.2,1227.5 666.2,1210.0 672.5,1217.5 677.5,1235.0 682.5,1248.8 687.5,1257.5 696.2,1270.0 701.2,1292.5 706.2,1312.5 710.5,1326.2 716.2,1321.2 720.0,1303.8 725.0,1280.0 730.5,1263.2 733.8,1260.8 739.5,1275.0 743.8,1305.0 748.8,1323.8 753.8,1334.2 760.0,1321.2 767.5,1314.5 773.8,1327.5 780.0,1336.8 784.5,1340.0 792.5,1330.0 798.8,1315.0 803.8,1305.8 810.0,1311.2 818.0,1321.8 822.5,1305.0 827.5,1282.5 832.0,1242.5 837.5,1213.8 841.2,1198.2 851.2,1201.2 863.8,1198.2 871.2,1201.2 877.5,1211.8 883.8,1218.8 890.0,1235.0 895.0,1251.2 900.0,1268.2 905.5,1275.0 911.2,1285.0 916.2,1296.2 920.5,1310.8 926.2,1304.5 930.0,1277.5 934.2,1240.0 940.0,1229.5 944.5,1247.5 950.0,1285.0 953.8,1317.5 961.2,1329.5 970.0,1328.0 976.2,1338.8 983.8,1345.0 990.0,1339.5 994.5,1336.2 1002.5,1320.0 1007.5,1297.5 1012.5,1279.2 1018.0,1280.0 1022.5,1307.5 1027.5,1327.5 1032.5,1341.2 1037.5,1342.0 1043.8,1337.5 1048.8,1330.0 1053.8,1305.0 1060.0,1267.5 1066.2,1222.5 1072.5,1205.0 1076.2,1200.0 1082.5,1206.2 1090.0,1216.2 1096.2,1221.2 1101.2,1230.0 1106.2,1236.2 1111.2,1257.5 1119.5,1285.8 1125.0,1281.2 1128.8,1281.8 1133.8,1292.5 1140.0,1317.5 1143.8,1335.8 1150.0,1331.2 1155.0,1315.0 1160.0,1305.0 1164.2,1309.2 1169.5,1303.8 1177.5,1282.5 1183.8,1290.0 1187.5,1302.5 1192.0,1307.5 1193.8,1314.2 1198.8,1307.5 1203.8,1295.0 1208.8,1265.0 1213.8,1242.5 1217.5,1220.0 1222.5,1203.8 1228.0,1195.0 1233.8,1200.0 1238.0,1208.8 1242.5,1226.2 1247.5,1236.2 1252.0,1246.2 1257.5,1243.8 1261.2,1235.0 1265.8,1220.0 1272.0,1217.5 1276.2,1233.8 1281.2,1255.0 1286.2,1282.5 1291.2,1303.8 1296.2,1326.2 1300.5,1337.5 1306.2,1341.2 1311.2,1339.5 1316.2,1332.5 1321.2,1312.5 1326.2,1290.0 1331.2,1260.0 1336.2,1236.2 1340.0,1217.5 1343.8,1216.2 1349.5,1223.8 1354.2,1238.8 1359.5,1238.2 1365.0,1226.2 1370.5,1215.0 1375.0,1230.0 1380.0,1258.8 1383.8,1300.0 1388.0,1333.8 1393.0,1345.0 1397.5,1346.2 1403.8,1342.5 1410.0,1332.5 1416.2,1320.0 1421.2,1314.5 1427.5,1312.5 1432.5,1310.0 1437.5,1301.2 1442.5,1276.2 1447.5,1253.8 1452.5,1228.8 1457.5,1219.2 1461.8,1214.5 1466.2,1230.0 1471.8,1245.0 1476.2,1278.8 1482.0,1300.0 1486.2,1315.0 1492.5,1302.5 1497.5,1275.0 1502.5,1251.2 1506.2,1240.0 1511.2,1236.8 1516.2,1239.2 1521.2,1227.5 1526.2,1218.8 1531.2,1208.8 1536.2,1205.8 1540.5,1217.5 1544.5,1246.2 1550.0,1280.0 1554.2,1307.5 1560.0,1311.2 1565.0,1300.0 1570.0,1282.5 1575.0,1255.0 1580.0,1230.0 1584.5,1207.5 1588.8,1200.0 1593.8,1198.8 1598.8,1200.8 1605.0,1197.5 1613.8,1194.2 1620.0,1196.2 1624.5,1198.8 1630.0,1211.2 1635.0,1225.0 1641.8,1241.2 1647.5,1263.8 1652.5,1290.0 1657.5,1311.8 1662.5,1320.0 1667.5,1324.5 1671.2,1328.8 1676.2,1336.8 1682.0,1341.2 1686.2,1336.2 1690.8,1320.0 1695.0,1292.5 1700.0,1261.2 1705.0,1243.8 1710.0,1241.8 1715.0,1256.2 1720.0,1271.2 1726.2,1295.0 1731.2,1311.2 1736.2,1320.0 1742.5,1331.2 1748.8,1341.2 1753.8,1346.2 1762.5,1345.0 1770.0,1343.2 1779.5,1341.2 1786.2,1331.2 1793.8,1320.8 1798.0,1323.8 1804.2,1324.2 1808.8,1302.5 1815.0,1265.0 1818.8,1232.5 1823.8,1208.8 1828.2,1199.5 1837.5,1195.0 1846.2,1200.0 1852.5,1205.0 1858.0,1204.2 1863.8,1202.0 1868.0,1201.2 1873.8,1223.8 1878.0,1255.0 1882.5,1282.5 1887.0,1297.0 1892.0,1300.0 1895.8,1291.2 1902.5,1290.0 1912.5,1287.5 1917.5,1283.2 1921.2,1284.2 1925.8,1292.5 1930.0,1298.0 1935.8,1288.8 1940.0,1260.0 1945.5,1227.5 1950.0,1203.8 1956.2,1202.0 1961.2,1205.0 1965.8,1212.5 1970.0,1220.0 1974.2,1237.5 1980.0,1257.5 1983.8,1280.0 1990.0,1290.0 1994.5,1305.0 1999.5,1317.5 2004.5,1329.2 2008.2,1329.2 2013.8,1317.5 2018.0,1287.5 2022.5,1270.0 2027.5,1266.2 2033.8,1277.5 2038.0,1275.5 2042.5,1252.5 2048.0,1226.2 2052.5,1216.2 2057.5,1213.0 2062.0,1211.2 2067.5,1205.8 2072.5,1201.2 2078.8,1200.0 2085.0,1197.5 2091.8,1196.2 2097.5,1200.0 2102.5,1205.0 2107.0,1215.0 2112.5,1222.5 2117.5,1227.0 2125.8,1235.0 2130.0,1248.2 2135.5,1257.5 2140.0,1275.0 2146.2,1287.5 2150.5,1303.8 2156.2,1310.8 2160.0,1323.8 2165.0,1333.0 2170.0,1338.2 2175.0,1323.8 2180.0,1305.0 2183.8,1276.2 2190.0,1253.8 2193.8,1240.8 2200.0,1232.5 2205.0,1218.8 2210.0,1210.0 2215.0,1203.8" fill="none" stroke="#ff6d00" stroke-opacity="0.62" stroke-width="2" stroke-linejoin="round"/>
<path d="M20 1225H2441M20 1317H2441" stroke="#4a4a4a" stroke-width="2" stroke-dasharray="10 12" fill="none"/>
<rect x="20" y="1225.7" width="2421" height="92.3" fill="#a548f7" fill-opacity="0.25"/>
</g>
<g clip-path="url(#cd)">
<path d="M23 1443.6V1434.9 M42 1443.6V1437.1 M47 1443.6V1435.2 M52 1443.6V1435.0 M57 1443.6V1434.9 M76 1443.6V1436.1 M81 1443.6V1435.9 M101 1443.6V1438.3 M106 1443.6V1432.5 M110 1443.6V1426.5 M115 1443.6V1423.4 M125 1443.6V1423.2 M159 1443.6V1441.6 M164 1443.6V1440.4 M169 1443.6V1438.8 M174 1443.6V1436.9 M257 1443.6V1441.6 M262 1443.6V1441.6 M389 1443.6V1441.6 M394 1443.6V1439.6 M399 1443.6V1438.5 M413 1443.6V1441.6 M418 1443.6V1438.2 M423 1443.6V1433.6 M428 1443.6V1432.4 M433 1443.6V1431.5 M438 1443.6V1428.6 M442 1443.6V1425.6 M447 1443.6V1423.8 M452 1443.6V1422.7 M457 1443.6V1421.8 M526 1443.6V1441.6 M530 1443.6V1441.6 M535 1443.6V1440.3 M540 1443.6V1439.9 M550 1443.6V1440.2 M652 1443.6V1441.6 M657 1443.6V1438.5 M662 1443.6V1436.7 M667 1443.6V1435.4 M828 1443.6V1439.1 M833 1443.6V1433.5 M838 1443.6V1431.7 M843 1443.6V1429.9 M848 1443.6V1428.9 M853 1443.6V1426.6 M858 1443.6V1424.3 M862 1443.6V1423.9 M926 1443.6V1441.6 M931 1443.6V1440.7 M936 1443.6V1440.3 M1063 1443.6V1439.7 M1068 1443.6V1436.1 M1072 1443.6V1435.2 M1077 1443.6V1434.9 M1116 1443.6V1441.6 M1121 1443.6V1441.6 M1209 1443.6V1441.6 M1214 1443.6V1438.7 M1219 1443.6V1434.6 M1224 1443.6V1431.1 M1258 1443.6V1437.2 M1263 1443.6V1436.0 M1331 1443.6V1440.4 M1336 1443.6V1439.3 M1341 1443.6V1438.4 M1356 1443.6V1439.6 M1361 1443.6V1438.5 M1365 1443.6V1437.4 M1453 1443.6V1441.6 M1463 1443.6V1440.8 M1492 1443.6V1441.6 M1497 1443.6V1441.2 M1502 1443.6V1440.9 M1507 1443.6V1440.7 M1512 1443.6V1439.9 M1517 1443.6V1438.7 M1522 1443.6V1436.9 M1527 1443.6V1436.6 M1531 1443.6V1435.3 M1536 1443.6V1434.9 M1561 1443.6V1441.6 M1566 1443.6V1441.3 M1571 1443.6V1440.1 M1575 1443.6V1438.3 M1580 1443.6V1436.0 M1585 1443.6V1433.5 M1590 1443.6V1432.6 M1595 1443.6V1431.7 M1600 1443.6V1431.4 M1605 1443.6V1431.1 M1610 1443.6V1430.6 M1614 1443.6V1430.1 M1697 1443.6V1441.6 M1702 1443.6V1441.6 M1824 1443.6V1439.4 M1829 1443.6V1435.1 M1834 1443.6V1431.9 M1839 1443.6V1430.3 M1844 1443.6V1430.1 M1849 1443.6V1429.5 M1854 1443.6V1427.6 M1859 1443.6V1427.4 M1907 1443.6V1441.6 M1912 1443.6V1441.6 M1917 1443.6V1441.6 M1932 1443.6V1441.6 M1937 1443.6V1439.4 M1942 1443.6V1437.6 M1947 1443.6V1437.2 M1951 1443.6V1433.7 M1956 1443.6V1433.3 M2039 1443.6V1439.7 M2044 1443.6V1436.6 M2049 1443.6V1436.0 M2054 1443.6V1435.4 M2059 1443.6V1434.4 M2064 1443.6V1433.7 M2073 1443.6V1431.9 M2078 1443.6V1424.0 M2083 1443.6V1419.3 M2088 1443.6V1416.1 M2196 1443.6V1441.6 M2200 1443.6V1441.6 M2205 1443.6V1439.0 M2210 1443.6V1436.6 M2215 1443.6V1436.1" stroke="#119c8e" stroke-width="2" fill="none"/>
<path d="M27 1443.6V1436.5 M32 1443.6V1438.0 M37 1443.6V1439.3 M62 1443.6V1435.2 M66 1443.6V1435.7 M71 1443.6V1436.1 M86 1443.6V1437.5 M91 1443.6V1439.1 M96 1443.6V1440.8 M120 1443.6V1424.0 M130 1443.6V1428.9 M135 1443.6V1435.6 M140 1443.6V1439.0 M145 1443.6V1441.0 M150 1443.6V1441.6 M154 1443.6V1441.6 M179 1443.6V1438.1 M184 1443.6V1439.5 M189 1443.6V1441.6 M267 1443.6V1441.6 M403 1443.6V1439.7 M408 1443.6V1441.6 M462 1443.6V1422.0 M467 1443.6V1424.2 M472 1443.6V1426.6 M477 1443.6V1427.3 M482 1443.6V1427.7 M486 1443.6V1428.7 M491 1443.6V1429.4 M496 1443.6V1430.8 M501 1443.6V1434.7 M506 1443.6V1438.9 M511 1443.6V1441.6 M545 1443.6V1440.3 M555 1443.6V1441.6 M672 1443.6V1438.3 M677 1443.6V1439.9 M682 1443.6V1440.7 M687 1443.6V1441.6 M867 1443.6V1424.3 M872 1443.6V1426.1 M877 1443.6V1428.5 M882 1443.6V1430.0 M887 1443.6V1431.8 M892 1443.6V1434.8 M897 1443.6V1436.8 M902 1443.6V1438.2 M906 1443.6V1438.9 M911 1443.6V1441.6 M941 1443.6V1441.6 M1082 1443.6V1435.1 M1087 1443.6V1435.4 M1092 1443.6V1436.5 M1097 1443.6V1437.7 M1102 1443.6V1440.1 M1107 1443.6V1441.5 M1111 1443.6V1441.6 M1126 1443.6V1441.6 M1229 1443.6V1431.3 M1234 1443.6V1432.3 M1238 1443.6V1433.7 M1243 1443.6V1435.5 M1248 1443.6V1437.0 M1253 1443.6V1438.5 M1268 1443.6V1436.3 M1273 1443.6V1437.5 M1278 1443.6V1438.6 M1282 1443.6V1440.0 M1287 1443.6V1441.6 M1292 1443.6V1441.6 M1346 1443.6V1439.2 M1351 1443.6V1439.7 M1370 1443.6V1437.7 M1375 1443.6V1441.6 M1458 1443.6V1441.6 M1468 1443.6V1441.6 M1473 1443.6V1441.6 M1541 1443.6V1438.4 M1546 1443.6V1441.1 M1551 1443.6V1441.4 M1556 1443.6V1441.6 M1619 1443.6V1430.3 M1624 1443.6V1431.1 M1629 1443.6V1433.6 M1634 1443.6V1434.0 M1639 1443.6V1436.0 M1644 1443.6V1437.3 M1649 1443.6V1440.0 M1654 1443.6V1441.6 M1658 1443.6V1441.6 M1663 1443.6V1441.6 M1707 1443.6V1441.6 M1864 1443.6V1427.6 M1868 1443.6V1428.1 M1873 1443.6V1438.8 M1878 1443.6V1441.6 M1961 1443.6V1433.7 M1966 1443.6V1435.8 M1971 1443.6V1438.3 M1976 1443.6V1441.6 M1981 1443.6V1441.6 M2069 1443.6V1434.1 M2093 1443.6V1417.0 M2098 1443.6V1419.8 M2103 1443.6V1422.7 M2108 1443.6V1425.6 M2113 1443.6V1427.8 M2117 1443.6V1430.8 M2122 1443.6V1435.8 M2127 1443.6V1437.6 M2132 1443.6V1440.4 M2137 1443.6V1441.6" stroke="#aee0db" stroke-width="2" fill="none"/>
<path d="M193 1443.6V1445.6 M198 1443.6V1447.9 M203 1443.6V1448.3 M208 1443.6V1448.7 M213 1443.6V1449.1 M218 1443.6V1452.2 M223 1443.6V1455.4 M228 1443.6V1458.0 M233 1443.6V1460.0 M237 1443.6V1460.5 M272 1443.6V1445.6 M276 1443.6V1445.6 M281 1443.6V1445.6 M286 1443.6V1445.6 M291 1443.6V1447.6 M296 1443.6V1450.1 M301 1443.6V1453.1 M306 1443.6V1455.2 M311 1443.6V1456.4 M316 1443.6V1456.6 M320 1443.6V1457.2 M325 1443.6V1458.2 M330 1443.6V1459.6 M335 1443.6V1461.0 M340 1443.6V1461.5 M516 1443.6V1445.6 M560 1443.6V1445.6 M565 1443.6V1445.6 M569 1443.6V1446.1 M574 1443.6V1447.0 M579 1443.6V1447.6 M599 1443.6V1447.3 M604 1443.6V1449.6 M609 1443.6V1451.9 M613 1443.6V1454.8 M618 1443.6V1456.8 M623 1443.6V1458.2 M692 1443.6V1445.6 M696 1443.6V1447.6 M701 1443.6V1449.9 M706 1443.6V1450.3 M711 1443.6V1450.4 M735 1443.6V1447.3 M740 1443.6V1449.7 M745 1443.6V1450.8 M755 1443.6V1450.8 M765 1443.6V1450.7 M770 1443.6V1453.1 M775 1443.6V1455.4 M804 1443.6V1450.3 M809 1443.6V1451.9 M916 1443.6V1445.6 M945 1443.6V1445.8 M950 1443.6V1446.4 M955 1443.6V1447.7 M965 1443.6V1448.9 M970 1443.6V1452.6 M975 1443.6V1456.2 M980 1443.6V1458.3 M989 1443.6V1458.4 M994 1443.6V1458.6 M1014 1443.6V1451.8 M1019 1443.6V1453.7 M1024 1443.6V1455.5 M1028 1443.6V1455.6 M1131 1443.6V1445.6 M1136 1443.6V1445.6 M1141 1443.6V1446.6 M1155 1443.6V1449.7 M1160 1443.6V1450.6 M1175 1443.6V1447.6 M1180 1443.6V1447.8 M1185 1443.6V1448.0 M1190 1443.6V1448.1 M1297 1443.6V1445.6 M1302 1443.6V1445.6 M1307 1443.6V1446.4 M1312 1443.6V1447.0 M1380 1443.6V1459.1 M1385 1443.6V1469.1 M1390 1443.6V1473.8 M1395 1443.6V1479.1 M1400 1443.6V1480.0 M1478 1443.6V1445.6 M1483 1443.6V1445.6 M1668 1443.6V1445.6 M1673 1443.6V1445.9 M1678 1443.6V1447.0 M1683 1443.6V1448.2 M1712 1443.6V1445.6 M1717 1443.6V1445.6 M1722 1443.6V1445.8 M1727 1443.6V1447.5 M1732 1443.6V1448.8 M1737 1443.6V1450.0 M1741 1443.6V1451.1 M1746 1443.6V1455.9 M1751 1443.6V1462.5 M1756 1443.6V1466.5 M1761 1443.6V1466.7 M1766 1443.6V1466.9 M1771 1443.6V1467.5 M1776 1443.6V1467.5 M1800 1443.6V1460.8 M1883 1443.6V1445.6 M1898 1443.6V1445.6 M1922 1443.6V1445.6 M1927 1443.6V1445.6 M1986 1443.6V1446.1 M1990 1443.6V1446.8 M1995 1443.6V1448.7 M2000 1443.6V1449.7 M2005 1443.6V1451.1 M2025 1443.6V1445.6 M2030 1443.6V1446.1 M2142 1443.6V1445.6 M2147 1443.6V1445.6 M2152 1443.6V1446.5 M2156 1443.6V1449.1 M2161 1443.6V1450.8 M2166 1443.6V1451.9" stroke="#ef5350" stroke-width="2" fill="none"/>
<path d="M242 1443.6V1458.2 M247 1443.6V1449.8 M252 1443.6V1445.6 M345 1443.6V1460.8 M350 1443.6V1460.0 M355 1443.6V1459.4 M359 1443.6V1458.7 M364 1443.6V1456.5 M369 1443.6V1455.7 M374 1443.6V1454.2 M379 1443.6V1452.0 M384 1443.6V1447.6 M521 1443.6V1445.6 M584 1443.6V1447.2 M589 1443.6V1446.5 M594 1443.6V1445.7 M628 1443.6V1457.8 M633 1443.6V1455.8 M638 1443.6V1451.6 M643 1443.6V1447.9 M648 1443.6V1445.6 M716 1443.6V1449.1 M721 1443.6V1446.7 M726 1443.6V1445.6 M731 1443.6V1445.6 M750 1443.6V1449.9 M760 1443.6V1449.1 M779 1443.6V1455.0 M784 1443.6V1454.3 M789 1443.6V1453.5 M794 1443.6V1450.0 M799 1443.6V1449.9 M814 1443.6V1451.2 M819 1443.6V1450.9 M823 1443.6V1445.6 M921 1443.6V1445.6 M960 1443.6V1447.4 M985 1443.6V1458.2 M999 1443.6V1454.3 M1004 1443.6V1451.8 M1009 1443.6V1450.3 M1033 1443.6V1455.2 M1038 1443.6V1454.5 M1043 1443.6V1453.4 M1048 1443.6V1450.6 M1053 1443.6V1447.3 M1058 1443.6V1445.6 M1146 1443.6V1446.5 M1151 1443.6V1445.6 M1165 1443.6V1449.0 M1170 1443.6V1447.5 M1195 1443.6V1447.7 M1199 1443.6V1446.3 M1204 1443.6V1445.6 M1317 1443.6V1446.4 M1321 1443.6V1446.1 M1326 1443.6V1445.6 M1404 1443.6V1474.9 M1409 1443.6V1472.1 M1414 1443.6V1467.0 M1419 1443.6V1463.9 M1424 1443.6V1460.3 M1429 1443.6V1457.0 M1434 1443.6V1453.1 M1439 1443.6V1449.4 M1444 1443.6V1446.3 M1448 1443.6V1445.6 M1488 1443.6V1445.6 M1688 1443.6V1447.1 M1693 1443.6V1445.6 M1780 1443.6V1464.4 M1785 1443.6V1461.1 M1790 1443.6V1458.7 M1795 1443.6V1458.5 M1805 1443.6V1457.3 M1810 1443.6V1452.7 M1815 1443.6V1450.5 M1820 1443.6V1445.6 M1888 1443.6V1445.6 M1893 1443.6V1445.6 M1903 1443.6V1445.6 M2010 1443.6V1447.6 M2015 1443.6V1445.6 M2020 1443.6V1445.6 M2034 1443.6V1445.6 M2171 1443.6V1451.7 M2176 1443.6V1447.6 M2181 1443.6V1446.3 M2186 1443.6V1445.6 M2191 1443.6V1445.6" stroke="#ffcdd2" stroke-width="2" fill="none"/>
<polyline points="20.5,1426.2 36.2,1427.0 46.2,1418.8 57.5,1413.8 71.2,1410.8 80.0,1408.0 96.2,1410.0 102.5,1402.5 113.8,1378.8 123.8,1367.5 130.0,1370.8 136.2,1377.0 145.0,1380.0 155.0,1380.0 165.0,1375.0 173.8,1370.0 183.8,1371.2 197.5,1380.0 212.5,1386.2 225.0,1400.0 235.0,1408.8 241.2,1410.0 246.2,1402.5 252.5,1398.8 262.5,1396.2 275.0,1397.5 287.5,1398.8 297.5,1407.5 310.0,1421.2 325.0,1435.0 340.0,1450.0 350.0,1457.5 358.8,1463.8 370.0,1468.0 377.5,1468.8 385.0,1462.5 392.5,1455.0 398.8,1452.0 402.5,1452.5 408.8,1454.2 413.8,1452.5 422.5,1440.0 433.8,1431.2 447.5,1412.5 460.0,1397.5 470.0,1391.2 480.0,1385.8 488.8,1382.5 496.2,1383.0 505.0,1388.8 515.0,1393.2 527.5,1390.0 537.5,1386.2 550.0,1387.5 562.5,1393.8 577.5,1400.0 587.5,1401.5 590.0,1402.0 595.0,1402.0 600.0,1406.2 607.5,1412.5 615.0,1422.5 622.5,1430.0 628.8,1433.8 632.5,1433.8 640.0,1429.5 647.5,1425.0 652.5,1422.5 656.2,1417.5 666.2,1410.8 672.5,1413.0 685.0,1413.8 691.2,1417.5 700.0,1425.0 710.0,1428.8 716.2,1428.0 722.5,1425.5 730.0,1424.5 737.5,1429.5 743.8,1433.8 750.0,1435.0 755.0,1437.5 760.0,1437.0 767.5,1443.8 775.0,1451.2 782.5,1455.0 787.5,1457.0 793.8,1455.0 802.5,1458.0 808.0,1462.0 818.0,1464.2 825.0,1456.2 832.5,1445.0 842.5,1436.2 850.0,1428.8 856.2,1418.8 865.0,1408.8 872.5,1405.5 885.0,1402.0 897.5,1403.8 906.2,1403.8 915.0,1409.5 920.0,1410.0 927.5,1405.8 934.2,1403.0 940.0,1405.8 945.0,1409.2 950.0,1410.8 955.0,1413.0 961.2,1413.8 967.5,1418.8 977.5,1432.5 985.0,1437.5 993.8,1443.8 1000.0,1442.0 1007.5,1441.2 1015.0,1446.2 1022.5,1453.8 1030.0,1458.2 1042.0,1462.5 1051.2,1460.0 1060.0,1453.8 1066.2,1446.2 1077.5,1440.0 1086.2,1436.2 1096.2,1435.0 1102.5,1436.8 1111.2,1437.5 1125.0,1436.2 1131.2,1439.2 1142.5,1443.0 1150.0,1442.0 1155.0,1447.5 1160.0,1450.0 1170.0,1449.5 1180.0,1452.5 1188.8,1455.0 1192.0,1455.0 1193.8,1455.5 1203.8,1453.0 1213.8,1445.0 1222.5,1431.2 1231.2,1425.0 1240.0,1423.8 1252.5,1423.8 1265.0,1415.8 1280.0,1415.8 1290.0,1419.2 1300.0,1422.0 1310.0,1425.5 1320.0,1425.8 1326.2,1424.2 1330.0,1420.0 1340.0,1414.2 1353.8,1413.0 1365.0,1406.8 1370.5,1406.2 1375.0,1412.5 1380.0,1432.5 1385.0,1450.0 1392.5,1467.5 1398.0,1481.8 1408.0,1490.8 1415.0,1492.5 1421.2,1495.0 1431.2,1493.8 1441.2,1488.2 1447.5,1486.2 1452.5,1483.2 1457.5,1483.0 1461.8,1480.8 1466.2,1482.0 1471.8,1482.0 1476.2,1484.5 1486.2,1485.0 1496.2,1480.5 1505.0,1478.8 1515.0,1475.0 1520.0,1470.8 1526.2,1468.0 1531.2,1464.5 1536.2,1462.0 1543.8,1466.2 1550.0,1466.2 1557.5,1467.5 1568.8,1464.5 1578.8,1457.5 1585.0,1450.0 1595.0,1441.2 1605.0,1433.8 1616.2,1422.5 1625.0,1417.5 1628.8,1417.5 1633.8,1415.5 1642.5,1415.5 1651.2,1418.8 1660.0,1420.0 1671.2,1424.2 1682.5,1428.8 1687.5,1428.0 1695.0,1425.0 1703.8,1423.8 1710.0,1424.2 1720.0,1427.0 1727.5,1431.2 1740.0,1437.5 1745.0,1443.8 1753.8,1466.2 1763.8,1479.2 1774.5,1492.5 1781.2,1495.0 1790.0,1496.8 1793.8,1500.0 1798.8,1508.0 1803.8,1508.0 1808.8,1505.0 1813.8,1504.5 1823.8,1492.5 1832.5,1480.0 1840.0,1472.5 1847.5,1468.0 1852.5,1461.2 1858.8,1455.8 1867.5,1449.2 1872.5,1458.8 1877.5,1463.0 1882.5,1465.0 1892.5,1465.0 1897.5,1466.2 1902.5,1466.2 1910.0,1463.8 1916.2,1463.0 1921.2,1464.5 1925.8,1467.5 1930.0,1463.8 1940.0,1456.8 1946.2,1454.5 1950.0,1449.2 1960.0,1443.8 1965.0,1443.2 1970.0,1444.2 1975.0,1448.8 1980.0,1448.8 1983.8,1452.5 1990.0,1454.5 1995.0,1458.2 2004.5,1463.8 2012.5,1460.0 2018.8,1457.5 2023.8,1458.8 2028.8,1460.8 2033.8,1460.8 2040.0,1451.2 2043.8,1448.2 2052.5,1443.8 2062.5,1436.2 2067.5,1434.2 2072.5,1428.8 2078.8,1412.5 2086.2,1393.8 2092.5,1385.8 2097.5,1382.5 2102.5,1380.5 2107.5,1379.2 2115.8,1377.5 2121.2,1380.0 2125.8,1380.5 2130.0,1382.5 2135.5,1384.2 2140.0,1386.2 2145.5,1385.8 2152.5,1390.0 2160.0,1396.2 2165.0,1400.0 2170.0,1402.0 2175.0,1398.8 2180.0,1398.0 2187.5,1397.0 2193.8,1395.0 2199.5,1395.0 2203.8,1390.5 2208.0,1386.2 2215.0,1383.2" fill="none" stroke="#2196f3" stroke-width="2.1" stroke-linejoin="round"/>
<polyline points="20.5,1435.5 37.5,1430.8 57.5,1422.5 75.0,1417.0 96.2,1412.5 107.5,1407.0 120.0,1391.2 132.5,1383.2 150.0,1381.8 170.0,1377.5 185.0,1375.0 197.5,1375.8 212.5,1380.8 230.0,1388.8 242.5,1395.0 255.0,1398.2 275.0,1396.8 291.2,1397.5 302.5,1402.0 317.5,1415.0 335.0,1427.5 350.0,1441.2 365.0,1453.8 377.5,1459.5 387.5,1460.0 400.0,1457.0 412.5,1455.0 425.0,1448.8 440.0,1440.0 457.5,1422.5 472.5,1406.2 487.5,1397.5 507.5,1393.2 525.0,1391.2 542.5,1390.0 562.5,1392.5 582.5,1397.0 590.0,1399.2 597.5,1400.8 607.5,1404.5 620.0,1413.8 631.2,1421.2 640.0,1423.8 650.0,1424.2 660.0,1421.2 667.5,1418.8 677.5,1416.8 690.0,1415.8 700.0,1418.8 710.0,1421.8 720.0,1423.2 730.0,1423.2 740.0,1425.0 750.0,1428.8 760.0,1431.8 772.5,1437.5 782.5,1444.2 792.5,1448.2 805.0,1452.5 816.2,1456.8 825.0,1457.5 832.5,1455.0 842.5,1450.0 852.5,1442.0 865.0,1428.8 877.5,1418.8 890.0,1412.0 902.5,1408.8 912.5,1408.0 922.5,1408.8 935.0,1406.8 945.0,1407.0 957.5,1409.2 970.0,1412.5 982.5,1421.2 997.5,1431.2 1015.0,1437.5 1030.0,1446.2 1042.5,1452.5 1052.5,1455.5 1062.5,1455.0 1072.5,1451.2 1085.0,1445.0 1097.5,1440.5 1112.5,1438.2 1127.5,1438.0 1140.0,1439.2 1152.5,1440.5 1162.5,1443.8 1175.0,1447.0 1192.0,1451.2 1203.8,1451.8 1213.8,1450.0 1222.5,1443.8 1232.5,1436.2 1242.5,1432.0 1255.0,1428.0 1267.5,1423.0 1280.0,1420.0 1292.5,1420.0 1305.0,1421.2 1317.5,1423.0 1330.0,1423.0 1342.5,1418.8 1355.0,1416.2 1365.0,1413.0 1372.5,1411.8 1380.0,1415.5 1387.5,1427.5 1395.0,1437.5 1402.5,1453.8 1412.5,1467.5 1422.5,1477.5 1432.5,1483.0 1442.5,1485.0 1455.0,1484.5 1467.5,1483.2 1480.0,1483.8 1490.0,1483.8 1502.5,1482.0 1515.0,1479.2 1526.2,1475.0 1536.2,1470.8 1545.0,1468.8 1557.5,1468.2 1568.8,1467.5 1580.0,1463.8 1592.5,1455.0 1605.0,1446.2 1616.2,1436.2 1627.5,1428.0 1637.5,1423.2 1647.5,1421.2 1660.0,1420.8 1672.5,1422.5 1685.0,1424.5 1697.5,1425.0 1710.0,1424.5 1722.5,1425.8 1737.5,1429.5 1746.2,1433.8 1755.0,1445.0 1765.0,1457.5 1775.0,1468.8 1783.8,1477.5 1790.0,1481.8 1797.5,1489.5 1805.0,1494.2 1812.5,1497.0 1818.8,1497.5 1825.0,1496.2 1833.8,1490.5 1842.5,1484.5 1847.5,1481.8 1855.0,1475.0 1865.0,1467.0 1871.2,1463.8 1880.0,1463.8 1892.5,1464.5 1905.0,1465.0 1917.5,1464.5 1930.0,1465.0 1937.5,1463.2 1945.5,1461.2 1955.0,1456.8 1965.0,1451.2 1972.5,1449.5 1980.0,1449.5 1990.0,1451.2 2000.0,1455.0 2010.0,1457.5 2020.0,1457.5 2028.8,1458.2 2033.8,1458.8 2042.5,1455.8 2052.5,1451.8 2062.5,1446.2 2070.0,1442.0 2077.5,1435.0 2085.0,1423.2 2095.0,1408.8 2105.0,1398.8 2112.5,1393.8 2121.2,1388.0 2130.0,1386.2 2140.0,1385.8 2148.8,1385.8 2156.2,1387.5 2165.0,1391.8 2173.8,1394.5 2182.5,1395.5 2192.5,1395.8 2200.0,1395.5 2207.5,1393.2 2215.0,1390.8" fill="none" stroke="#ff6d00" stroke-width="2.1" stroke-linejoin="round"/>
</g>
<rect x="20" y="54" width="2560" height="1520" fill="none" stroke="#e9ecf1" stroke-width="2"/>
<path d="M20 1185H2580M20 1359H2580M20 1519H2580M2441 54V1574" stroke="#dcdde1" stroke-width="2.4" fill="none"/>
<g filter="url(#nf)"><text x="2461" y="82.6" font-size="23.5" fill="#131722" stroke="#131722" textLength="95" lengthAdjust="spacingAndGlyphs">54000.00</text></g>
<g filter="url(#nf)"><text x="2461" y="168.6" font-size="23.5" fill="#131722" stroke="#131722" textLength="95" lengthAdjust="spacingAndGlyphs">52000.00</text></g>
<g filter="url(#nf)"><text x="2461" y="254.6" font-size="23.5" fill="#131722" stroke="#131722" textLength="95" lengthAdjust="spacingAndGlyphs">50000.00</text></g>
<g filter="url(#nf)"><text x="2461" y="341.6" font-size="23.5" fill="#131722" stroke="#131722" textLength="95" lengthAdjust="spacingAndGlyphs">48000.00</text></g>
<g filter="url(#nf)"><text x="2461" y="514.6" font-size="23.5" fill="#131722" stroke="#131722" textLength="95" lengthAdjust="spacingAndGlyphs">44000.00</text></g>
<g filter="url(#nf)"><text x="2461" y="600.6" font-size="23.5" fill="#131722" stroke="#131722" textLength="95" lengthAdjust="spacingAndGlyphs">42000.00</text></g>
<g filter="url(#nf)"><text x="2461" y="686.6" font-size="23.5" fill="#131722" stroke="#131722" textLength="95" lengthAdjust="spacingAndGlyphs">40000.00</text></g>
<g filter="url(#nf)"><text x="2461" y="773.6" font-size="23.5" fill="#131722" stroke="#131722" textLength="95" lengthAdjust="spacingAndGlyphs">38000.00</text></g>
<g filter="url(#nf)"><text x="2461" y="946.6" font-size="23.5" fill="#131722" stroke="#131722" textLength="95" lengthAdjust="spacingAndGlyphs">34000.00</text></g>
<g filter="url(#nf)"><text x="2461" y="1032.6" font-size="23.5" fill="#131722" stroke="#131722" textLength="95" lengthAdjust="spacingAndGlyphs">32000.00</text></g>
<path d="M2439.6 83.0H2566a4 4 0 0 1 4 4V113.0a4 4 0 0 1 -4 4H2439.6z" fill="#ffa726"/>
<g filter="url(#nf)"><text x="2461" y="108.6" font-size="23.5" fill="#131722" stroke="#131722" textLength="95" lengthAdjust="spacingAndGlyphs">53400.00</text></g>
<path d="M2439.6 168.0H2566a4 4 0 0 1 4 4V198.0a4 4 0 0 1 -4 4H2439.6z" fill="#ef5350"/>
<g filter="url(#nf)"><text x="2461" y="193.6" font-size="23.5" fill="#fff" stroke="#fff" textLength="95" lengthAdjust="spacingAndGlyphs">51431.01</text></g>
<path d="M2439.6 402.0H2566a4 4 0 0 1 4 4V432.0a4 4 0 0 1 -4 4H2439.6z" fill="#a4c1f5"/>
<g filter="url(#nf)"><text x="2461" y="427.6" font-size="23.5" fill="#131722" stroke="#131722" textLength="95" lengthAdjust="spacingAndGlyphs">46000.00</text></g>
<path d="M2439.6 834.0H2566a4 4 0 0 1 4 4V864.0a4 4 0 0 1 -4 4H2439.6z" fill="#ff00ff"/>
<g filter="url(#nf)"><text x="2461" y="859.6" font-size="23.5" fill="#fff" stroke="#fff" textLength="95" lengthAdjust="spacingAndGlyphs">36000.00</text></g>
<path d="M2439.6 985.0H2566a4 4 0 0 1 4 4V1015.0a4 4 0 0 1 -4 4H2439.6z" fill="#0c3f9e"/>
<g filter="url(#nf)"><text x="2461" y="1010.6" font-size="23.5" fill="#fff" stroke="#fff" textLength="95" lengthAdjust="spacingAndGlyphs">32500.00</text></g>
<path d="M2439.6 1093.0H2566a4 4 0 0 1 4 4V1123.0a4 4 0 0 1 -4 4H2439.6z" fill="#0000ff"/>
<g filter="url(#nf)"><text x="2461" y="1118.6" font-size="23.5" fill="#fff" stroke="#fff" textLength="95" lengthAdjust="spacingAndGlyphs">30000.00</text></g>
<rect x="2483" y="67" width="54" height="35.5" rx="6" fill="#fff" stroke="#d6d9e0" stroke-width="1.6"/>
<g filter="url(#nf)"><text x="2510" y="93.2" font-size="26.5" fill="#131722" stroke="#131722" text-anchor="middle" textLength="40" lengthAdjust="spacingAndGlyphs">USD</text></g>
<g filter="url(#nf)"><text x="2461" y="1233.6" font-size="23.5" fill="#131722" stroke="#131722" textLength="58" lengthAdjust="spacingAndGlyphs">80.00</text></g>
<g filter="url(#nf)"><text x="2461" y="1294.6" font-size="23.5" fill="#131722" stroke="#131722" textLength="58" lengthAdjust="spacingAndGlyphs">40.00</text></g>
<g filter="url(#nf)"><text x="2461" y="1356.6" font-size="23.5" fill="#131722" stroke="#131722" textLength="45" lengthAdjust="spacingAndGlyphs">0.00</text></g>
<g filter="url(#nf)"><text x="2461" y="1451.6" font-size="23.5" fill="#131722" stroke="#131722" textLength="45" lengthAdjust="spacingAndGlyphs">0.00</text></g>
<g filter="url(#nf)"><text x="105.1" y="1555.5" font-size="23" fill="#131722" stroke="#131722" text-anchor="middle">26</text></g>
<g filter="url(#nf)"><text x="280.8" y="1555.5" font-size="23" fill="#131722" text-anchor="middle" font-weight="bold" lengthAdjust="spacingAndGlyphs" textLength="41">Aug</text></g>
<g filter="url(#nf)"><text x="515.2" y="1555.5" font-size="23" fill="#131722" stroke="#131722" text-anchor="middle">9</text></g>
<g filter="url(#nf)"><text x="720.3" y="1555.5" font-size="23" fill="#131722" stroke="#131722" text-anchor="middle">16</text></g>
<g filter="url(#nf)"><text x="925.4" y="1555.5" font-size="23" fill="#131722" stroke="#131722" text-anchor="middle">23</text></g>
<g filter="url(#nf)"><text x="1189.1" y="1555.5" font-size="23" fill="#131722" text-anchor="middle" font-weight="bold" lengthAdjust="spacingAndGlyphs" textLength="39">Sep</text></g>
<g filter="url(#nf)"><text x="1364.9" y="1555.5" font-size="23" fill="#131722" stroke="#131722" text-anchor="middle">7</text></g>
<g filter="url(#nf)"><text x="1540.7" y="1555.5" font-size="23" fill="#131722" stroke="#131722" text-anchor="middle">13</text></g>
<g filter="url(#nf)"><text x="1745.8" y="1555.5" font-size="23" fill="#131722" stroke="#131722" text-anchor="middle">20</text></g>
<g filter="url(#nf)"><text x="1907.0" y="1555.5" font-size="23" fill="#131722" stroke="#131722" text-anchor="middle">15:00</text></g>
<g filter="url(#nf)"><text x="2068.1" y="1555.5" font-size="23" fill="#131722" text-anchor="middle" font-weight="bold" lengthAdjust="spacingAndGlyphs" textLength="38">Oct</text></g>
<g filter="url(#nf)"><text x="2361.1" y="1555.5" font-size="23" fill="#131722" stroke="#131722" text-anchor="middle">11</text></g>
<g filter="url(#nf)"><text x="20.5" y="42" font-size="24" fill="#131722" stroke="#131722" textLength="689" lengthAdjust="spacingAndGlyphs">FilFox published on TradingView.com, Oct 06, 2021 05:39 UTC+3</text></g>
<g filter="url(#nf)"><text x="36.3" y="96.3" font-size="23.5" fill="#131722" stroke="#131722" textLength="242.3" lengthAdjust="spacingAndGlyphs">BTCUSD, 4h, BITSTAMP</text></g>
<g filter="url(#nf)"><text x="293.7" y="96.3" font-size="23.5" fill="#131722" stroke="#131722" textLength="15.5" lengthAdjust="spacingAndGlyphs">O</text></g>
<g filter="url(#nf)"><text x="310.5" y="96.3" font-size="23.5" fill="#ef5350" stroke="#ef5350" textLength="95.5" lengthAdjust="spacingAndGlyphs">51521.89</text></g>
<g filter="url(#nf)"><text x="421.7" y="96.3" font-size="23.5" fill="#131722" stroke="#131722" textLength="14.5" lengthAdjust="spacingAndGlyphs">H</text></g>
<g filter="url(#nf)"><text x="437.4" y="96.3" font-size="23.5" fill="#ef5350" stroke="#ef5350" textLength="96" lengthAdjust="spacingAndGlyphs">51535.49</text></g>
<g filter="url(#nf)"><text x="549" y="96.3" font-size="23.5" fill="#131722" stroke="#131722" textLength="11.5" lengthAdjust="spacingAndGlyphs">L</text></g>
<g filter="url(#nf)"><text x="561.6" y="96.3" font-size="23.5" fill="#ef5350" stroke="#ef5350" textLength="95.5" lengthAdjust="spacingAndGlyphs">50914.40</text></g>
<g filter="url(#nf)"><text x="672" y="96.3" font-size="23.5" fill="#131722" stroke="#131722" textLength="13.5" lengthAdjust="spacingAndGlyphs">C</text></g>
<g filter="url(#nf)"><text x="686" y="96.3" font-size="23.5" fill="#ef5350" stroke="#ef5350" textLength="95" lengthAdjust="spacingAndGlyphs">51431.01</text></g>
<g filter="url(#nf)"><text x="798" y="96.3" font-size="23.5" fill="#ef5350" stroke="#ef5350" textLength="168.5" lengthAdjust="spacingAndGlyphs">−70.18 (−0.14%)</text></g>
<g filter="url(#nf)"><text x="36.3" y="130" font-size="23.5" fill="#131722" stroke="#131722" textLength="466.7" lengthAdjust="spacingAndGlyphs">VPVR (Number Of Rows, 120, Up/Down, 70)</text></g>
<g filter="url(#nf)"><text x="36.3" y="163.8" font-size="23.5" fill="#131722" stroke="#131722" textLength="81.4" lengthAdjust="spacingAndGlyphs">Vol (20)</text></g>
<g filter="url(#nf)"><text x="133.4" y="163.8" font-size="23.5" fill="#ef5350" stroke="#ef5350" textLength="35.6" lengthAdjust="spacingAndGlyphs">151</text></g>
<g filter="url(#nf)"><text x="185" y="163.8" font-size="23.5" fill="#ff9850" stroke="#ff9850" textLength="35.3" lengthAdjust="spacingAndGlyphs">321</text></g>
<g filter="url(#nf)"><text x="36.3" y="197.5" font-size="23.5" fill="#131722" stroke="#131722" textLength="271.5" lengthAdjust="spacingAndGlyphs">Colored EMA /SMA (55, 8)</text></g>
<g filter="url(#nf)"><text x="323" y="197.5" font-size="23.5" fill="#008000" stroke="#008000" textLength="97" lengthAdjust="spacingAndGlyphs">46930.94</text></g>
<g filter="url(#nf)"><text x="36.5" y="1228" font-size="23.5" fill="#131722" stroke="#131722" textLength="315.5" lengthAdjust="spacingAndGlyphs">Stoch RSI (3, 3, 14, 14, close)</text></g>
<g filter="url(#nf)"><text x="369" y="1228" font-size="23.5" fill="#2196f3" stroke="#2196f3" textLength="57" lengthAdjust="spacingAndGlyphs">98.55</text></g>
<g filter="url(#nf)"><text x="441.8" y="1228" font-size="23.5" fill="#ff6d00" stroke="#ff6d00" textLength="57.7" lengthAdjust="spacingAndGlyphs">93.86</text></g>
<g filter="url(#nf)"><text x="36.5" y="1402" font-size="23.5" fill="#131722" stroke="#131722" textLength="248.5" lengthAdjust="spacingAndGlyphs">MACD (12, 26, close, 9)</text></g>
<g filter="url(#nf)"><text x="302.5" y="1402" font-size="23.5" fill="#26a69a" stroke="#26a69a" textLength="69.3" lengthAdjust="spacingAndGlyphs">163.20</text></g>
<g filter="url(#nf)"><text x="388" y="1402" font-size="23.5" fill="#2196f3" stroke="#2196f3" textLength="83" lengthAdjust="spacingAndGlyphs">1311.54</text></g>
<g filter="url(#nf)"><text x="488" y="1402" font-size="23.5" fill="#ff6d00" stroke="#ff6d00" textLength="82" lengthAdjust="spacingAndGlyphs">1148.34</text></g>
<path d="M20 1598H35.1V1617.4H27.8V1605.8H20z M49.7 1598H59.3L50.9 1617.4H42.2z" fill="#131722"/>
<circle cx="42.2" cy="1602.4" r="4.4" fill="#131722"/>
<g filter="url(#nf)"><text x="66.2" y="1617.4" font-size="26" fill="#131722" stroke="#131722" textLength="140.2" lengthAdjust="spacingAndGlyphs">TradingView</text></g>
</svg>
</body></html>
